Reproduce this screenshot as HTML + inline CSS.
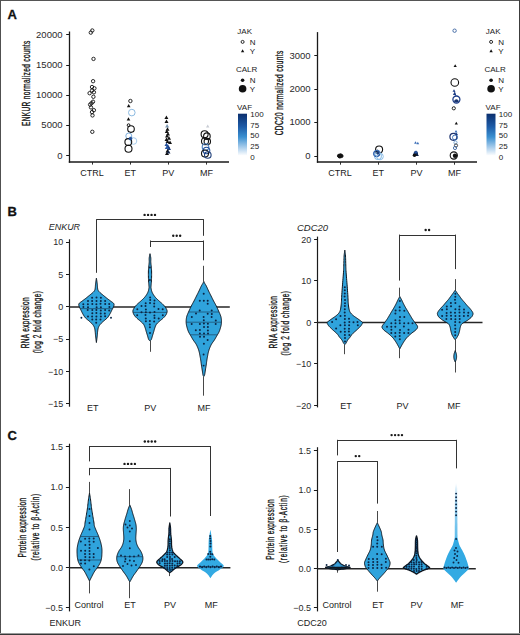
<!DOCTYPE html>
<html><head><meta charset="utf-8"><style>
html,body{margin:0;padding:0;background:#fff;}
svg{display:block;}
text{font-family:"Liberation Sans",sans-serif;}
</style></head><body>
<svg width="520" height="635" viewBox="0 0 520 635">
<defs><linearGradient id="vaf" x1="0" y1="0" x2="0" y2="1">
<stop offset="0" stop-color="#0b2f6e"/><stop offset="0.3" stop-color="#1d5aa6"/><stop offset="0.55" stop-color="#3a8fd0"/><stop offset="0.8" stop-color="#a9cdec"/><stop offset="1" stop-color="#ffffff"/></linearGradient></defs>
<rect width="520" height="635" fill="#fff"/>
<rect x="0" y="0" width="520" height="1" fill="#555"/>
<rect x="0" y="0" width="1" height="635" fill="#505050"/>
<rect x="519" y="0" width="1" height="635" fill="#3c3c3c"/>
<rect x="0" y="634" width="520" height="1" fill="#383838"/>
<rect x="0" y="633" width="520" height="1" fill="#9a9a9a"/>
<text x="7.6" y="18.7" font-size="13" text-anchor="start" font-weight="bold" font-style="normal" fill="#111" stroke="#111" stroke-width="0.3">A</text>
<text x="7.6" y="215.8" font-size="13" text-anchor="start" font-weight="bold" font-style="normal" fill="#111" stroke="#111" stroke-width="0.3">B</text>
<text x="7.4" y="439.6" font-size="13" text-anchor="start" font-weight="bold" font-style="normal" fill="#111" stroke="#111" stroke-width="0.3">C</text>
<line x1="69.5" y1="31.5" x2="69.5" y2="162.7" stroke="#1a1a1a" stroke-width="1.3"/>
<line x1="68.8" y1="162.0" x2="229.0" y2="162.0" stroke="#1a1a1a" stroke-width="1.5"/>
<line x1="66.2" y1="155.5" x2="69.4" y2="155.5" stroke="#1a1a1a" stroke-width="1.0"/>
<text x="62.5" y="158.6" font-size="9.5" text-anchor="end" font-weight="normal" font-style="normal" fill="#2a2a2a" >0</text>
<line x1="66.2" y1="125.5" x2="69.4" y2="125.5" stroke="#1a1a1a" stroke-width="1.0"/>
<text x="62.5" y="128.4" font-size="9.5" text-anchor="end" font-weight="normal" font-style="normal" fill="#2a2a2a" >5000</text>
<line x1="66.2" y1="95.5" x2="69.4" y2="95.5" stroke="#1a1a1a" stroke-width="1.0"/>
<text x="62.5" y="98.2" font-size="9.5" text-anchor="end" font-weight="normal" font-style="normal" fill="#2a2a2a" >10000</text>
<line x1="66.2" y1="65.5" x2="69.4" y2="65.5" stroke="#1a1a1a" stroke-width="1.0"/>
<text x="62.5" y="67.9" font-size="9.5" text-anchor="end" font-weight="normal" font-style="normal" fill="#2a2a2a" >15000</text>
<line x1="66.2" y1="34.5" x2="69.4" y2="34.5" stroke="#1a1a1a" stroke-width="1.0"/>
<text x="62.5" y="37.7" font-size="9.5" text-anchor="end" font-weight="normal" font-style="normal" fill="#2a2a2a" >20000</text>
<line x1="92.5" y1="162.0" x2="92.5" y2="164.6" stroke="#1a1a1a" stroke-width="0.9"/>
<text x="92.0" y="176.2" font-size="9" text-anchor="middle" font-weight="normal" font-style="normal" fill="#222" >CTRL</text>
<line x1="130.5" y1="162.0" x2="130.5" y2="164.6" stroke="#1a1a1a" stroke-width="0.9"/>
<text x="130.2" y="176.2" font-size="9" text-anchor="middle" font-weight="normal" font-style="normal" fill="#222" >ET</text>
<line x1="168.5" y1="162.0" x2="168.5" y2="164.6" stroke="#1a1a1a" stroke-width="0.9"/>
<text x="168.3" y="176.2" font-size="9" text-anchor="middle" font-weight="normal" font-style="normal" fill="#222" >PV</text>
<line x1="206.5" y1="162.0" x2="206.5" y2="164.6" stroke="#1a1a1a" stroke-width="0.9"/>
<text x="206.5" y="176.2" font-size="9" text-anchor="middle" font-weight="normal" font-style="normal" fill="#222" >MF</text>
<g transform="translate(30.20,83.30) rotate(-90) scale(0.64,1)"><text x="0" y="0" font-size="10.2" text-anchor="middle" fill="#151515" stroke="#151515" stroke-width="0.35" textLength="133.1" lengthAdjust="spacing">ENKUR normalized counts</text></g>
<text x="237.3" y="33.8" font-size="8" text-anchor="start" font-weight="normal" font-style="normal" fill="#222" >JAK</text>
<circle cx="242.6" cy="41.9" r="1.5" fill="none" stroke="#111" stroke-width="0.9"/>
<text x="249.8" y="44.6" font-size="8" text-anchor="start" font-weight="normal" font-style="normal" fill="#222" >N</text>
<path d="M242.6,49.2 L244.3,52.2 L240.9,52.2Z" fill="#111"/>
<text x="249.8" y="54.0" font-size="8" text-anchor="start" font-weight="normal" font-style="normal" fill="#222" >Y</text>
<text x="236.0" y="71.9" font-size="8" text-anchor="start" font-weight="normal" font-style="normal" fill="#222" >CALR</text>
<circle cx="242.6" cy="80.2" r="1.8" fill="#111" stroke="#111" stroke-width="0"/>
<text x="249.8" y="82.6" font-size="8" text-anchor="start" font-weight="normal" font-style="normal" fill="#222" >N</text>
<circle cx="242.6" cy="88.8" r="3.8" fill="#111" stroke="#111" stroke-width="0"/>
<text x="249.8" y="92.0" font-size="8" text-anchor="start" font-weight="normal" font-style="normal" fill="#222" >Y</text>
<text x="237.1" y="109.5" font-size="8" text-anchor="start" font-weight="normal" font-style="normal" fill="#222" >VAF</text>
<rect x="238" y="113.7" width="9" height="42" fill="url(#vaf)"/>
<text x="250.3" y="116.6" font-size="8" text-anchor="start" font-weight="normal" font-style="normal" fill="#222" >100</text>
<text x="250.3" y="127.5" font-size="8" text-anchor="start" font-weight="normal" font-style="normal" fill="#222" >75</text>
<text x="250.3" y="138.4" font-size="8" text-anchor="start" font-weight="normal" font-style="normal" fill="#222" >50</text>
<text x="250.3" y="149.3" font-size="8" text-anchor="start" font-weight="normal" font-style="normal" fill="#222" >25</text>
<text x="250.3" y="160.2" font-size="8" text-anchor="start" font-weight="normal" font-style="normal" fill="#222" >0</text>
<line x1="317.5" y1="32.1" x2="317.5" y2="162.8" stroke="#1a1a1a" stroke-width="1.3"/>
<line x1="316.9" y1="162.1" x2="477.0" y2="162.1" stroke="#1a1a1a" stroke-width="1.5"/>
<line x1="314.3" y1="156.5" x2="317.5" y2="156.5" stroke="#1a1a1a" stroke-width="1.0"/>
<text x="310.6" y="158.9" font-size="9.5" text-anchor="end" font-weight="normal" font-style="normal" fill="#2a2a2a" >0</text>
<line x1="314.3" y1="122.5" x2="317.5" y2="122.5" stroke="#1a1a1a" stroke-width="1.0"/>
<text x="310.6" y="125.4" font-size="9.5" text-anchor="end" font-weight="normal" font-style="normal" fill="#2a2a2a" >1000</text>
<line x1="314.3" y1="89.5" x2="317.5" y2="89.5" stroke="#1a1a1a" stroke-width="1.0"/>
<text x="310.6" y="92.0" font-size="9.5" text-anchor="end" font-weight="normal" font-style="normal" fill="#2a2a2a" >2000</text>
<line x1="314.3" y1="55.5" x2="317.5" y2="55.5" stroke="#1a1a1a" stroke-width="1.0"/>
<text x="310.6" y="58.5" font-size="9.5" text-anchor="end" font-weight="normal" font-style="normal" fill="#2a2a2a" >3000</text>
<line x1="340.5" y1="162.1" x2="340.5" y2="164.7" stroke="#1a1a1a" stroke-width="0.9"/>
<text x="340.1" y="176.3" font-size="9" text-anchor="middle" font-weight="normal" font-style="normal" fill="#222" >CTRL</text>
<line x1="378.5" y1="162.1" x2="378.5" y2="164.7" stroke="#1a1a1a" stroke-width="0.9"/>
<text x="378.2" y="176.3" font-size="9" text-anchor="middle" font-weight="normal" font-style="normal" fill="#222" >ET</text>
<line x1="416.5" y1="162.1" x2="416.5" y2="164.7" stroke="#1a1a1a" stroke-width="0.9"/>
<text x="416.4" y="176.3" font-size="9" text-anchor="middle" font-weight="normal" font-style="normal" fill="#222" >PV</text>
<line x1="454.5" y1="162.1" x2="454.5" y2="164.7" stroke="#1a1a1a" stroke-width="0.9"/>
<text x="454.5" y="176.3" font-size="9" text-anchor="middle" font-weight="normal" font-style="normal" fill="#222" >MF</text>
<g transform="translate(283.30,93.00) rotate(-90) scale(0.64,1)"><text x="0" y="0" font-size="10.2" text-anchor="middle" fill="#151515" stroke="#151515" stroke-width="0.35" textLength="132.2" lengthAdjust="spacing">CDC20 normalized counts</text></g>
<text x="485.8" y="33.8" font-size="8" text-anchor="start" font-weight="normal" font-style="normal" fill="#222" >JAK</text>
<circle cx="491.1" cy="41.9" r="1.5" fill="none" stroke="#111" stroke-width="0.9"/>
<text x="498.3" y="44.6" font-size="8" text-anchor="start" font-weight="normal" font-style="normal" fill="#222" >N</text>
<path d="M491.1,49.2 L492.8,52.2 L489.4,52.2Z" fill="#111"/>
<text x="498.3" y="54.0" font-size="8" text-anchor="start" font-weight="normal" font-style="normal" fill="#222" >Y</text>
<text x="484.5" y="71.9" font-size="8" text-anchor="start" font-weight="normal" font-style="normal" fill="#222" >CALR</text>
<circle cx="491.1" cy="80.2" r="1.8" fill="#111" stroke="#111" stroke-width="0"/>
<text x="498.3" y="82.6" font-size="8" text-anchor="start" font-weight="normal" font-style="normal" fill="#222" >N</text>
<circle cx="491.1" cy="88.8" r="3.8" fill="#111" stroke="#111" stroke-width="0"/>
<text x="498.3" y="92.0" font-size="8" text-anchor="start" font-weight="normal" font-style="normal" fill="#222" >Y</text>
<text x="485.6" y="109.5" font-size="8" text-anchor="start" font-weight="normal" font-style="normal" fill="#222" >VAF</text>
<rect x="486.5" y="113.7" width="9" height="42" fill="url(#vaf)"/>
<text x="498.8" y="116.6" font-size="8" text-anchor="start" font-weight="normal" font-style="normal" fill="#222" >100</text>
<text x="498.8" y="127.5" font-size="8" text-anchor="start" font-weight="normal" font-style="normal" fill="#222" >75</text>
<text x="498.8" y="138.4" font-size="8" text-anchor="start" font-weight="normal" font-style="normal" fill="#222" >50</text>
<text x="498.8" y="149.3" font-size="8" text-anchor="start" font-weight="normal" font-style="normal" fill="#222" >25</text>
<text x="498.8" y="160.2" font-size="8" text-anchor="start" font-weight="normal" font-style="normal" fill="#222" >0</text>
<circle cx="92.3" cy="30.5" r="1.7" fill="none" stroke="#111" stroke-width="0.9"/>
<circle cx="90.8" cy="32.6" r="1.7" fill="none" stroke="#111" stroke-width="0.9"/>
<circle cx="93.5" cy="58.9" r="1.7" fill="none" stroke="#111" stroke-width="0.9"/>
<circle cx="93.1" cy="81.2" r="1.7" fill="none" stroke="#111" stroke-width="0.9"/>
<circle cx="92.0" cy="87.0" r="1.7" fill="none" stroke="#111" stroke-width="0.9"/>
<circle cx="94.4" cy="88.3" r="1.7" fill="none" stroke="#111" stroke-width="0.9"/>
<circle cx="92.0" cy="90.6" r="1.7" fill="none" stroke="#111" stroke-width="0.9"/>
<circle cx="93.9" cy="92.3" r="1.7" fill="none" stroke="#111" stroke-width="0.9"/>
<circle cx="89.6" cy="93.2" r="1.7" fill="none" stroke="#111" stroke-width="0.9"/>
<circle cx="93.4" cy="96.8" r="1.7" fill="none" stroke="#111" stroke-width="0.9"/>
<circle cx="93.0" cy="101.7" r="1.7" fill="none" stroke="#111" stroke-width="0.9"/>
<circle cx="91.5" cy="103.2" r="1.7" fill="none" stroke="#111" stroke-width="0.9"/>
<circle cx="90.1" cy="104.6" r="1.7" fill="none" stroke="#111" stroke-width="0.9"/>
<circle cx="91.0" cy="107.4" r="1.7" fill="none" stroke="#111" stroke-width="0.9"/>
<circle cx="93.9" cy="110.2" r="1.7" fill="none" stroke="#111" stroke-width="0.9"/>
<circle cx="92.0" cy="112.1" r="1.7" fill="none" stroke="#111" stroke-width="0.9"/>
<circle cx="92.5" cy="115.4" r="1.7" fill="none" stroke="#111" stroke-width="0.9"/>
<circle cx="92.3" cy="131.8" r="1.7" fill="none" stroke="#111" stroke-width="0.9"/>
<circle cx="130.4" cy="101.0" r="1.7" fill="none" stroke="#111" stroke-width="0.9"/>
<path d="M128.7,104.1 L130.5,107.3 L126.9,107.3Z" fill="#111"/>
<circle cx="131.8" cy="112.6" r="3.3" fill="none" stroke="#7fb2de" stroke-width="0.9"/>
<path d="M128.5,117.3 L130.3,120.5 L126.7,120.5Z" fill="#111"/>
<circle cx="128.6" cy="125.2" r="1.4" fill="none" stroke="#111" stroke-width="1.0"/>
<circle cx="131.0" cy="129.1" r="3.3" fill="none" stroke="#111" stroke-width="1.1"/>
<circle cx="128.8" cy="136.0" r="3.0" fill="none" stroke="#7fb0de" stroke-width="1.0"/>
<circle cx="133.5" cy="141.0" r="3.3" fill="none" stroke="#a8cdec" stroke-width="1.0"/>
<circle cx="128.3" cy="142.0" r="3.4" fill="none" stroke="#111" stroke-width="1.1"/>
<circle cx="128.5" cy="148.7" r="3.5" fill="none" stroke="#111" stroke-width="1.1"/>
<circle cx="130.5" cy="138.5" r="1.5" fill="#1f4e9a" stroke="#1f4e9a" stroke-width="0.5"/>
<path d="M166.4,115.6 L168.4,119.1 L164.4,119.1Z" fill="#111"/>
<path d="M166.5,119.5 L168.5,123.0 L164.5,123.0Z" fill="#111"/>
<path d="M167.1,124.1 L169.1,127.6 L165.1,127.6Z" fill="#7a96b0"/>
<path d="M167.5,127.3 L169.5,130.8 L165.5,130.8Z" fill="#111"/>
<path d="M166.8,129.4 L168.8,132.9 L164.8,132.9Z" fill="#111"/>
<path d="M168.0,131.9 L170.0,135.4 L166.0,135.4Z" fill="#111"/>
<path d="M167.0,133.9 L169.0,137.4 L165.0,137.4Z" fill="#111"/>
<path d="M169.0,136.2 L171.0,139.7 L167.0,139.7Z" fill="#111"/>
<path d="M166.5,137.4 L168.5,140.9 L164.5,140.9Z" fill="#111"/>
<path d="M167.5,139.4 L169.5,142.9 L165.5,142.9Z" fill="#111"/>
<path d="M170.0,140.4 L172.0,143.9 L168.0,143.9Z" fill="#111"/>
<path d="M166.5,142.4 L168.5,145.9 L164.5,145.9Z" fill="#24509a"/>
<path d="M168.0,144.4 L170.0,147.9 L166.0,147.9Z" fill="#1c4690"/>
<path d="M169.0,146.4 L171.0,149.9 L167.0,149.9Z" fill="#1a3a7a"/>
<path d="M166.8,145.4 L168.8,148.9 L164.8,148.9Z" fill="#2a5aa8"/>
<path d="M167.5,148.9 L169.5,152.4 L165.5,152.4Z" fill="#111"/>
<path d="M167.0,151.4 L169.0,154.9 L165.0,154.9Z" fill="#111"/>
<path d="M168.5,149.9 L170.5,153.4 L166.5,153.4Z" fill="#14264a"/>
<path d="M207.7,124.4 L209.4,127.4 L206.0,127.4Z" fill="#c8ccd4"/>
<circle cx="204.6" cy="134.2" r="3.5" fill="none" stroke="#111" stroke-width="1.1"/>
<circle cx="206.9" cy="136.2" r="3.3" fill="none" stroke="#111" stroke-width="1.1"/>
<circle cx="205.0" cy="141.2" r="3.5" fill="none" stroke="#111" stroke-width="1.1"/>
<circle cx="207.3" cy="141.6" r="3.2" fill="none" stroke="#111" stroke-width="1.1"/>
<circle cx="205.5" cy="147.0" r="3.3" fill="none" stroke="#4a7fc0" stroke-width="1.1"/>
<circle cx="206.5" cy="150.5" r="3.3" fill="none" stroke="#1f4e9a" stroke-width="1.1"/>
<circle cx="205.0" cy="153.5" r="3.5" fill="none" stroke="#111" stroke-width="1.1"/>
<circle cx="207.8" cy="155.0" r="3.3" fill="none" stroke="#1f3f7a" stroke-width="1.1"/>
<circle cx="339.0" cy="155.8" r="1.6" fill="#111" stroke="#111" stroke-width="0.9"/>
<circle cx="340.5" cy="155.3" r="1.6" fill="#111" stroke="#111" stroke-width="0.9"/>
<circle cx="341.5" cy="156.0" r="1.6" fill="#111" stroke="#111" stroke-width="0.9"/>
<circle cx="339.8" cy="156.5" r="1.6" fill="#111" stroke="#111" stroke-width="0.9"/>
<circle cx="379.1" cy="149.5" r="3.5" fill="none" stroke="#111" stroke-width="1.1"/>
<circle cx="377.3" cy="151.8" r="1.6" fill="#111" stroke="#111" stroke-width="0.9"/>
<circle cx="377.0" cy="153.2" r="3.0" fill="none" stroke="#4a7fc0" stroke-width="1.1"/>
<circle cx="378.0" cy="156.0" r="3.4" fill="none" stroke="#8fc0e8" stroke-width="1.1"/>
<circle cx="376.5" cy="153.8" r="3.0" fill="none" stroke="#2a5aa8" stroke-width="1.0"/>
<circle cx="380.0" cy="156.5" r="3.3" fill="none" stroke="#8fc0e8" stroke-width="1.0"/>
<circle cx="378.0" cy="153.0" r="1.5" fill="#1f3f7a" stroke="#111" stroke-width="0"/>
<path d="M415.5,141.3 L416.9,143.8 L414.1,143.8Z" fill="#3d6fb8"/>
<path d="M417.8,141.7 L419.2,144.2 L416.4,144.2Z" fill="#3d6fb8"/>
<circle cx="415.8" cy="153.2" r="2.2" fill="#1f3f7a" stroke="#111" stroke-width="0"/>
<path d="M417.0,152.8 L418.9,156.1 L415.1,156.1Z" fill="#0d1e44"/>
<circle cx="414.5" cy="155.3" r="1.8" fill="#111" stroke="#111" stroke-width="0"/>
<path d="M416.0,150.3 L417.6,153.1 L414.4,153.1Z" fill="#24509a"/>
<circle cx="454.6" cy="30.7" r="1.7" fill="none" stroke="#3b64a0" stroke-width="0.9"/>
<path d="M455.2,64.3 L456.8,67.1 L453.6,67.1Z" fill="#111"/>
<circle cx="454.8" cy="82.5" r="3.8" fill="none" stroke="#111" stroke-width="1.1"/>
<path d="M454.0,89.2 L455.5,91.8 L452.5,91.8Z" fill="#1f3f8a"/>
<path d="M454.5,92.1 L456.1,94.9 L452.9,94.9Z" fill="#1a3a80"/>
<line x1="454.3" y1="91" x2="456" y2="96" stroke="#1f3f8a" stroke-width="0.9"/>
<circle cx="456.4" cy="99.5" r="3.5" fill="none" stroke="#1f3f8a" stroke-width="1.3"/>
<path d="M453.6,101.5 Q456.4,97 459.2,101.5 Q456.4,103 453.6,101.5Z" fill="#1a3570"/>
<circle cx="453.8" cy="108.3" r="1.6" fill="none" stroke="#111" stroke-width="0.9"/>
<path d="M456.3,121.7 L457.9,124.5 L454.7,124.5Z" fill="#111"/>
<path d="M456.0,129.9 L457.5,132.5 L454.5,132.5Z" fill="#3d6fb8"/>
<path d="M456.5,132.4 L458.0,135.0 L455.0,135.0Z" fill="#1f4e9a"/>
<circle cx="453.4" cy="136.8" r="3.5" fill="none" stroke="#1f3570" stroke-width="1.2"/>
<circle cx="455.0" cy="137.5" r="2.5" fill="none" stroke="#2f64b0" stroke-width="0.9"/>
<circle cx="455.5" cy="142.5" r="1.6" fill="none" stroke="#6f9fcf" stroke-width="0.9"/>
<circle cx="456.0" cy="145.5" r="1.6" fill="none" stroke="#333" stroke-width="0.9"/>
<circle cx="455.0" cy="148.0" r="1.6" fill="none" stroke="#3b64a0" stroke-width="0.9"/>
<circle cx="453.8" cy="155.5" r="3.6" fill="none" stroke="#111" stroke-width="1.1"/>
<circle cx="455.0" cy="155.8" r="2.2" fill="#111" stroke="#111" stroke-width="0"/>
<line x1="69.5" y1="239.3" x2="69.5" y2="406.7" stroke="#1a1a1a" stroke-width="1.2"/>
<line x1="66.0" y1="242.5" x2="69.3" y2="242.5" stroke="#1a1a1a" stroke-width="1.0"/>
<text x="63.2" y="245.3" font-size="9" text-anchor="end" font-weight="normal" font-style="normal" fill="#2a2a2a" >10</text>
<line x1="66.0" y1="274.5" x2="69.3" y2="274.5" stroke="#1a1a1a" stroke-width="1.0"/>
<text x="63.2" y="277.6" font-size="9" text-anchor="end" font-weight="normal" font-style="normal" fill="#2a2a2a" >5</text>
<line x1="66.0" y1="306.5" x2="69.3" y2="306.5" stroke="#1a1a1a" stroke-width="1.0"/>
<text x="63.2" y="310.0" font-size="9" text-anchor="end" font-weight="normal" font-style="normal" fill="#2a2a2a" >0</text>
<line x1="66.0" y1="339.5" x2="69.3" y2="339.5" stroke="#1a1a1a" stroke-width="1.0"/>
<text x="63.2" y="342.4" font-size="9" text-anchor="end" font-weight="normal" font-style="normal" fill="#2a2a2a" >−5</text>
<line x1="66.0" y1="371.5" x2="69.3" y2="371.5" stroke="#1a1a1a" stroke-width="1.0"/>
<text x="63.2" y="374.7" font-size="9" text-anchor="end" font-weight="normal" font-style="normal" fill="#2a2a2a" >−10</text>
<line x1="66.0" y1="403.5" x2="69.3" y2="403.5" stroke="#1a1a1a" stroke-width="1.0"/>
<text x="63.2" y="407.1" font-size="9" text-anchor="end" font-weight="normal" font-style="normal" fill="#2a2a2a" >−15</text>
<text x="48.7" y="230.3" font-size="9.3" text-anchor="start" font-weight="normal" font-style="italic" fill="#1e1e1e" textLength="31.4" lengthAdjust="spacingAndGlyphs">ENKUR</text>
<g transform="translate(29.10,322.80) rotate(-90) scale(0.64,1)"><text x="0" y="0" font-size="10.2" text-anchor="middle" fill="#151515" stroke="#151515" stroke-width="0.35" textLength="79.7" lengthAdjust="spacing">RNA expression</text></g>
<g transform="translate(41.30,322.20) rotate(-90) scale(0.64,1)"><text x="0" y="0" font-size="10.2" text-anchor="middle" fill="#151515" stroke="#151515" stroke-width="0.35" textLength="97.3" lengthAdjust="spacing">(log 2 fold change)</text></g>
<line x1="96.2" y1="219.5" x2="203.8" y2="219.5" stroke="#333" stroke-width="1.0"/>
<line x1="96.5" y1="219.4" x2="96.5" y2="272.8" stroke="#333" stroke-width="1.0"/>
<line x1="203.5" y1="219.4" x2="203.5" y2="235.8" stroke="#333" stroke-width="1.0"/>
<circle cx="144.62" cy="214.90" r="1.2" fill="#1a1a1a"/>
<circle cx="148.07" cy="214.90" r="1.2" fill="#1a1a1a"/>
<circle cx="151.53" cy="214.90" r="1.2" fill="#1a1a1a"/>
<circle cx="154.97" cy="214.90" r="1.2" fill="#1a1a1a"/>
<line x1="150.1" y1="241.5" x2="203.8" y2="241.5" stroke="#333" stroke-width="1.0"/>
<line x1="150.5" y1="240.5" x2="150.5" y2="247.0" stroke="#333" stroke-width="1.0"/>
<line x1="203.5" y1="240.5" x2="203.5" y2="260.3" stroke="#333" stroke-width="1.0"/>
<circle cx="173.25" cy="235.80" r="1.2" fill="#1a1a1a"/>
<circle cx="176.70" cy="235.80" r="1.2" fill="#1a1a1a"/>
<circle cx="180.15" cy="235.80" r="1.2" fill="#1a1a1a"/>
<line x1="69.0" y1="306.9" x2="229.8" y2="306.9" stroke="#262626" stroke-width="1.5"/>
<path d="M96.40,278.20 L96.49,278.77 L96.62,279.57 L96.77,280.51 L96.93,281.52 L97.07,282.54 L97.20,283.50 L97.30,284.45 L97.37,285.45 L97.44,286.46 L97.51,287.42 L97.60,288.28 L97.70,289.00 L97.82,289.54 L97.96,289.94 L98.10,290.25 L98.26,290.50 L98.42,290.74 L98.60,291.00 L98.77,291.27 L98.94,291.50 L99.12,291.72 L99.33,291.94 L99.58,292.20 L99.90,292.50 L100.29,292.85 L100.74,293.23 L101.24,293.64 L101.77,294.08 L102.33,294.53 L102.90,295.00 L103.50,295.50 L104.13,296.02 L104.79,296.57 L105.46,297.12 L106.13,297.67 L106.80,298.20 L107.47,298.72 L108.17,299.24 L108.86,299.76 L109.54,300.26 L110.20,300.74 L110.80,301.20 L111.38,301.62 L111.95,302.01 L112.49,302.38 L112.98,302.74 L113.39,303.11 L113.70,303.50 L113.90,303.89 L114.02,304.26 L114.06,304.63 L114.03,305.03 L113.94,305.48 L113.80,306.00 L113.59,306.61 L113.29,307.29 L112.92,308.02 L112.54,308.77 L112.15,309.50 L111.80,310.20 L111.48,310.86 L111.18,311.50 L110.88,312.12 L110.57,312.75 L110.25,313.37 L109.90,314.00 L109.54,314.63 L109.19,315.26 L108.81,315.89 L108.40,316.53 L107.94,317.16 L107.40,317.80 L106.75,318.45 L105.99,319.12 L105.18,319.79 L104.36,320.46 L103.59,321.10 L102.90,321.70 L102.30,322.26 L101.74,322.80 L101.22,323.31 L100.74,323.80 L100.30,324.30 L99.90,324.80 L99.54,325.30 L99.23,325.77 L98.96,326.25 L98.71,326.74 L98.50,327.25 L98.30,327.80 L98.13,328.39 L97.99,329.01 L97.88,329.65 L97.78,330.31 L97.69,331.00 L97.60,331.70 L97.52,332.41 L97.46,333.12 L97.41,333.86 L97.35,334.62 L97.29,335.43 L97.20,336.30 L97.08,337.31 L96.93,338.48 L96.78,339.69 L96.62,340.83 L96.49,341.81 L96.40,342.50 L96.40,342.50 L96.31,341.81 L96.18,340.83 L96.03,339.69 L95.87,338.48 L95.72,337.31 L95.60,336.30 L95.51,335.43 L95.45,334.62 L95.39,333.86 L95.34,333.12 L95.28,332.41 L95.20,331.70 L95.11,331.00 L95.02,330.31 L94.93,329.65 L94.81,329.01 L94.67,328.39 L94.50,327.80 L94.30,327.25 L94.09,326.74 L93.84,326.25 L93.57,325.77 L93.26,325.30 L92.90,324.80 L92.50,324.30 L92.06,323.80 L91.58,323.31 L91.06,322.80 L90.50,322.26 L89.90,321.70 L89.21,321.10 L88.44,320.46 L87.62,319.79 L86.81,319.12 L86.05,318.45 L85.40,317.80 L84.86,317.16 L84.40,316.53 L83.99,315.89 L83.61,315.26 L83.26,314.63 L82.90,314.00 L82.55,313.37 L82.23,312.75 L81.92,312.12 L81.62,311.50 L81.32,310.86 L81.00,310.20 L80.65,309.50 L80.26,308.77 L79.88,308.02 L79.51,307.29 L79.21,306.61 L79.00,306.00 L78.86,305.48 L78.77,305.03 L78.74,304.63 L78.78,304.26 L78.90,303.89 L79.10,303.50 L79.41,303.11 L79.82,302.74 L80.31,302.38 L80.85,302.01 L81.42,301.62 L82.00,301.20 L82.60,300.74 L83.26,300.26 L83.94,299.76 L84.63,299.24 L85.33,298.72 L86.00,298.20 L86.67,297.67 L87.34,297.12 L88.01,296.57 L88.67,296.02 L89.30,295.50 L89.90,295.00 L90.47,294.53 L91.03,294.08 L91.56,293.64 L92.06,293.23 L92.51,292.85 L92.90,292.50 L93.22,292.20 L93.47,291.94 L93.68,291.72 L93.86,291.50 L94.03,291.27 L94.20,291.00 L94.38,290.74 L94.54,290.50 L94.70,290.25 L94.84,289.94 L94.98,289.54 L95.10,289.00 L95.20,288.28 L95.29,287.42 L95.36,286.46 L95.43,285.45 L95.50,284.45 L95.60,283.50 L95.73,282.54 L95.87,281.52 L96.03,280.51 L96.18,279.57 L96.31,278.77 L96.40,278.20Z" fill="#2fa3dc" stroke="#0e1620" stroke-width="1.0" stroke-linejoin="round"/>
<line x1="80.2" y1="308.6" x2="112.6" y2="308.6" stroke="#1a3550" stroke-width="0.6"/>
<circle cx="92.1" cy="297.7" r="1.0" fill="#0b2545"/>
<circle cx="96.5" cy="297.6" r="1.0" fill="#0b2545"/>
<circle cx="100.9" cy="297.7" r="1.0" fill="#0b2545"/>
<circle cx="88.0" cy="300.9" r="1.0" fill="#0b2545"/>
<circle cx="92.1" cy="301.0" r="1.0" fill="#0b2545"/>
<circle cx="96.5" cy="301.1" r="1.0" fill="#0b2545"/>
<circle cx="100.8" cy="301.0" r="1.0" fill="#0b2545"/>
<circle cx="105.1" cy="300.9" r="1.0" fill="#0b2545"/>
<circle cx="83.3" cy="304.2" r="1.0" fill="#0b2545"/>
<circle cx="87.9" cy="304.2" r="1.0" fill="#0b2545"/>
<circle cx="92.3" cy="303.9" r="1.0" fill="#0b2545"/>
<circle cx="96.4" cy="304.2" r="1.0" fill="#0b2545"/>
<circle cx="100.5" cy="303.8" r="1.0" fill="#0b2545"/>
<circle cx="105.2" cy="304.0" r="1.0" fill="#0b2545"/>
<circle cx="109.2" cy="304.0" r="1.0" fill="#0b2545"/>
<circle cx="83.4" cy="307.1" r="1.0" fill="#0b2545"/>
<circle cx="88.0" cy="307.2" r="1.0" fill="#0b2545"/>
<circle cx="96.6" cy="307.2" r="1.0" fill="#0b2545"/>
<circle cx="100.9" cy="307.3" r="1.0" fill="#0b2545"/>
<circle cx="109.4" cy="307.0" r="1.0" fill="#0b2545"/>
<circle cx="87.7" cy="310.0" r="1.0" fill="#0b2545"/>
<circle cx="92.3" cy="310.0" r="1.0" fill="#0b2545"/>
<circle cx="96.4" cy="310.0" r="1.0" fill="#0b2545"/>
<circle cx="100.8" cy="310.4" r="1.0" fill="#0b2545"/>
<circle cx="105.1" cy="310.0" r="1.0" fill="#0b2545"/>
<circle cx="109.2" cy="310.4" r="1.0" fill="#0b2545"/>
<circle cx="92.3" cy="313.2" r="1.0" fill="#0b2545"/>
<circle cx="96.4" cy="313.1" r="1.0" fill="#0b2545"/>
<circle cx="100.7" cy="313.4" r="1.0" fill="#0b2545"/>
<circle cx="104.8" cy="313.5" r="1.0" fill="#0b2545"/>
<circle cx="88.0" cy="316.6" r="1.0" fill="#0b2545"/>
<circle cx="92.1" cy="316.4" r="1.0" fill="#0b2545"/>
<circle cx="96.4" cy="316.4" r="1.0" fill="#0b2545"/>
<circle cx="100.9" cy="316.4" r="1.0" fill="#0b2545"/>
<circle cx="105.1" cy="316.3" r="1.0" fill="#0b2545"/>
<circle cx="92.3" cy="319.5" r="1.0" fill="#0b2545"/>
<circle cx="96.2" cy="319.5" r="1.0" fill="#0b2545"/>
<circle cx="100.5" cy="319.6" r="1.0" fill="#0b2545"/>
<circle cx="96.2" cy="322.7" r="1.0" fill="#0b2545"/>
<circle cx="81.4" cy="317.7" r="0.95" fill="#0b2545" stroke="#111" stroke-width="0"/>
<circle cx="111.0" cy="317.7" r="0.95" fill="#0b2545" stroke="#111" stroke-width="0"/>
<line x1="150.5" y1="341.0" x2="150.5" y2="351.8" stroke="#333" stroke-width="0.9"/>
<path d="M150.00,253.70 L150.10,254.17 L150.24,254.81 L150.40,255.58 L150.56,256.41 L150.70,257.23 L150.80,258.00 L150.84,258.71 L150.84,259.42 L150.82,260.12 L150.79,260.84 L150.78,261.56 L150.80,262.30 L150.86,263.06 L150.94,263.83 L151.03,264.61 L151.13,265.40 L151.22,266.19 L151.30,267.00 L151.37,267.78 L151.43,268.54 L151.49,269.31 L151.54,270.12 L151.58,271.01 L151.60,272.00 L151.61,273.14 L151.61,274.40 L151.60,275.73 L151.58,277.09 L151.54,278.43 L151.50,279.70 L151.43,280.95 L151.34,282.24 L151.23,283.51 L151.13,284.69 L151.05,285.74 L151.00,286.60 L150.98,287.20 L150.98,287.59 L151.00,287.84 L151.03,288.03 L151.08,288.26 L151.15,288.60 L151.23,289.05 L151.32,289.55 L151.43,290.08 L151.56,290.63 L151.72,291.17 L151.90,291.70 L152.11,292.22 L152.34,292.74 L152.60,293.26 L152.88,293.77 L153.18,294.29 L153.50,294.80 L153.83,295.30 L154.18,295.80 L154.55,296.30 L154.94,296.80 L155.36,297.30 L155.80,297.80 L156.28,298.31 L156.79,298.83 L157.32,299.34 L157.88,299.86 L158.44,300.38 L159.00,300.90 L159.58,301.42 L160.17,301.94 L160.78,302.46 L161.38,302.97 L161.96,303.49 L162.50,304.00 L163.01,304.50 L163.49,304.97 L163.95,305.45 L164.39,305.94 L164.81,306.45 L165.20,307.00 L165.60,307.60 L166.00,308.23 L166.39,308.89 L166.72,309.57 L166.97,310.24 L167.10,310.90 L167.11,311.55 L167.03,312.21 L166.86,312.87 L166.62,313.53 L166.33,314.17 L166.00,314.80 L165.61,315.42 L165.15,316.03 L164.63,316.63 L164.09,317.21 L163.53,317.77 L163.00,318.30 L162.48,318.79 L161.95,319.24 L161.42,319.67 L160.88,320.09 L160.34,320.53 L159.80,321.00 L159.24,321.50 L158.65,322.01 L158.06,322.53 L157.49,323.07 L156.96,323.63 L156.50,324.20 L156.12,324.80 L155.79,325.42 L155.51,326.06 L155.26,326.71 L155.03,327.36 L154.80,328.00 L154.58,328.63 L154.39,329.26 L154.22,329.89 L154.05,330.53 L153.88,331.16 L153.70,331.80 L153.51,332.45 L153.31,333.10 L153.11,333.75 L152.90,334.40 L152.70,335.05 L152.50,335.70 L152.30,336.37 L152.10,337.06 L151.91,337.75 L151.71,338.41 L151.51,339.00 L151.30,339.50 L151.07,339.90 L150.83,340.23 L150.57,340.49 L150.34,340.70 L150.14,340.86 L150.00,341.00 L150.00,341.00 L149.86,340.86 L149.66,340.70 L149.43,340.49 L149.17,340.23 L148.93,339.90 L148.70,339.50 L148.49,339.00 L148.29,338.41 L148.09,337.75 L147.90,337.06 L147.70,336.37 L147.50,335.70 L147.30,335.05 L147.10,334.40 L146.89,333.75 L146.69,333.10 L146.49,332.45 L146.30,331.80 L146.12,331.16 L145.95,330.53 L145.78,329.89 L145.61,329.26 L145.42,328.63 L145.20,328.00 L144.97,327.36 L144.74,326.71 L144.49,326.06 L144.21,325.42 L143.88,324.80 L143.50,324.20 L143.04,323.63 L142.51,323.07 L141.94,322.53 L141.35,322.01 L140.76,321.50 L140.20,321.00 L139.66,320.53 L139.12,320.09 L138.58,319.67 L138.05,319.24 L137.52,318.79 L137.00,318.30 L136.47,317.77 L135.91,317.21 L135.37,316.63 L134.85,316.03 L134.39,315.42 L134.00,314.80 L133.67,314.17 L133.38,313.53 L133.14,312.87 L132.97,312.21 L132.89,311.55 L132.90,310.90 L133.03,310.24 L133.28,309.57 L133.61,308.89 L134.00,308.23 L134.40,307.60 L134.80,307.00 L135.19,306.45 L135.61,305.94 L136.05,305.45 L136.51,304.97 L136.99,304.50 L137.50,304.00 L138.04,303.49 L138.62,302.97 L139.22,302.46 L139.83,301.94 L140.42,301.42 L141.00,300.90 L141.56,300.38 L142.12,299.86 L142.68,299.34 L143.21,298.83 L143.72,298.31 L144.20,297.80 L144.64,297.30 L145.06,296.80 L145.45,296.30 L145.82,295.80 L146.17,295.30 L146.50,294.80 L146.82,294.29 L147.12,293.77 L147.40,293.26 L147.66,292.74 L147.89,292.22 L148.10,291.70 L148.28,291.17 L148.44,290.63 L148.57,290.08 L148.68,289.55 L148.77,289.05 L148.85,288.60 L148.92,288.26 L148.97,288.03 L149.00,287.84 L149.02,287.59 L149.02,287.20 L149.00,286.60 L148.95,285.74 L148.87,284.69 L148.77,283.51 L148.66,282.24 L148.57,280.95 L148.50,279.70 L148.46,278.43 L148.42,277.09 L148.40,275.73 L148.39,274.40 L148.39,273.14 L148.40,272.00 L148.42,271.01 L148.46,270.12 L148.51,269.31 L148.57,268.54 L148.63,267.78 L148.70,267.00 L148.78,266.19 L148.87,265.40 L148.97,264.61 L149.06,263.83 L149.14,263.06 L149.20,262.30 L149.22,261.56 L149.21,260.84 L149.18,260.12 L149.16,259.42 L149.16,258.71 L149.20,258.00 L149.30,257.23 L149.44,256.41 L149.60,255.58 L149.76,254.81 L149.90,254.17 L150.00,253.70Z" fill="#2fa3dc" stroke="#0e1620" stroke-width="1.0" stroke-linejoin="round"/>
<line x1="133.0" y1="312.4" x2="167.0" y2="312.4" stroke="#1a3550" stroke-width="0.6"/>
<circle cx="150.1" cy="297.4" r="1.0" fill="#0b2545"/>
<circle cx="150.2" cy="300.1" r="1.0" fill="#0b2545"/>
<circle cx="154.5" cy="300.4" r="1.0" fill="#0b2545"/>
<circle cx="145.7" cy="303.2" r="1.0" fill="#0b2545"/>
<circle cx="150.0" cy="303.1" r="1.0" fill="#0b2545"/>
<circle cx="154.2" cy="303.5" r="1.0" fill="#0b2545"/>
<circle cx="141.5" cy="306.1" r="1.0" fill="#0b2545"/>
<circle cx="145.5" cy="306.1" r="1.0" fill="#0b2545"/>
<circle cx="154.2" cy="306.5" r="1.0" fill="#0b2545"/>
<circle cx="137.3" cy="309.3" r="1.0" fill="#0b2545"/>
<circle cx="145.9" cy="309.4" r="1.0" fill="#0b2545"/>
<circle cx="158.5" cy="309.1" r="1.0" fill="#0b2545"/>
<circle cx="162.7" cy="309.2" r="1.0" fill="#0b2545"/>
<circle cx="141.5" cy="312.2" r="1.0" fill="#0b2545"/>
<circle cx="145.9" cy="312.3" r="1.0" fill="#0b2545"/>
<circle cx="150.0" cy="312.4" r="1.0" fill="#0b2545"/>
<circle cx="154.5" cy="312.1" r="1.0" fill="#0b2545"/>
<circle cx="137.2" cy="315.2" r="1.0" fill="#0b2545"/>
<circle cx="145.5" cy="315.1" r="1.0" fill="#0b2545"/>
<circle cx="154.4" cy="315.5" r="1.0" fill="#0b2545"/>
<circle cx="162.8" cy="315.3" r="1.0" fill="#0b2545"/>
<circle cx="145.8" cy="318.4" r="1.0" fill="#0b2545"/>
<circle cx="154.5" cy="318.1" r="1.0" fill="#0b2545"/>
<circle cx="158.7" cy="318.5" r="1.0" fill="#0b2545"/>
<circle cx="145.9" cy="321.3" r="1.0" fill="#0b2545"/>
<circle cx="149.9" cy="321.1" r="1.0" fill="#0b2545"/>
<circle cx="154.1" cy="321.4" r="1.0" fill="#0b2545"/>
<circle cx="149.8" cy="324.5" r="1.0" fill="#0b2545"/>
<circle cx="149.9" cy="327.3" r="1.0" fill="#0b2545"/>
<circle cx="150.0" cy="333.1" r="1.0" fill="#0b2545"/>
<circle cx="149.9" cy="267.5" r="0.95" fill="#0b2545" stroke="#111" stroke-width="0"/>
<circle cx="149.9" cy="280.0" r="0.95" fill="#0b2545" stroke="#111" stroke-width="0"/>
<line x1="203.5" y1="265.8" x2="203.5" y2="281.4" stroke="#333" stroke-width="0.9"/>
<line x1="203.5" y1="376.4" x2="203.5" y2="395.7" stroke="#333" stroke-width="0.9"/>
<path d="M203.80,281.40 L203.90,281.62 L204.04,281.93 L204.21,282.29 L204.39,282.69 L204.59,283.10 L204.80,283.50 L205.01,283.86 L205.23,284.21 L205.47,284.57 L205.72,284.97 L206.00,285.43 L206.30,286.00 L206.63,286.69 L207.00,287.48 L207.39,288.34 L207.79,289.24 L208.20,290.14 L208.60,291.00 L209.01,291.83 L209.42,292.67 L209.84,293.50 L210.26,294.33 L210.68,295.17 L211.10,296.00 L211.51,296.83 L211.93,297.67 L212.34,298.50 L212.75,299.33 L213.17,300.17 L213.60,301.00 L214.04,301.83 L214.50,302.67 L214.96,303.50 L215.42,304.33 L215.87,305.17 L216.30,306.00 L216.71,306.83 L217.10,307.67 L217.49,308.50 L217.86,309.33 L218.23,310.17 L218.60,311.00 L218.98,311.84 L219.37,312.70 L219.75,313.56 L220.11,314.41 L220.43,315.22 L220.70,316.00 L220.91,316.72 L221.07,317.41 L221.19,318.06 L221.28,318.70 L221.35,319.34 L221.40,320.00 L221.44,320.67 L221.46,321.33 L221.45,322.00 L221.42,322.67 L221.37,323.33 L221.30,324.00 L221.20,324.67 L221.08,325.33 L220.93,326.00 L220.77,326.67 L220.59,327.33 L220.40,328.00 L220.21,328.67 L220.00,329.33 L219.79,330.00 L219.55,330.67 L219.29,331.33 L219.00,332.00 L218.67,332.67 L218.30,333.33 L217.91,334.00 L217.50,334.67 L217.09,335.33 L216.70,336.00 L216.32,336.67 L215.95,337.33 L215.58,338.00 L215.20,338.67 L214.81,339.33 L214.40,340.00 L213.95,340.67 L213.47,341.33 L212.98,342.00 L212.49,342.67 L212.02,343.33 L211.60,344.00 L211.22,344.67 L210.88,345.33 L210.56,346.00 L210.26,346.67 L209.97,347.33 L209.70,348.00 L209.44,348.67 L209.20,349.33 L208.98,350.00 L208.77,350.67 L208.58,351.33 L208.40,352.00 L208.24,352.67 L208.09,353.33 L207.96,354.00 L207.84,354.67 L207.72,355.33 L207.60,356.00 L207.48,356.66 L207.36,357.30 L207.24,357.94 L207.13,358.59 L207.02,359.28 L206.90,360.00 L206.78,360.78 L206.67,361.59 L206.56,362.44 L206.44,363.30 L206.32,364.16 L206.20,365.00 L206.07,365.83 L205.94,366.67 L205.81,367.50 L205.67,368.33 L205.53,369.17 L205.40,370.00 L205.27,370.88 L205.13,371.80 L205.00,372.72 L204.87,373.60 L204.73,374.38 L204.60,375.00 L204.46,375.46 L204.30,375.79 L204.15,376.01 L204.01,376.17 L203.89,376.29 L203.80,376.40 L203.80,376.40 L203.71,376.29 L203.59,376.17 L203.45,376.01 L203.30,375.79 L203.14,375.46 L203.00,375.00 L202.87,374.38 L202.73,373.60 L202.60,372.72 L202.47,371.80 L202.33,370.88 L202.20,370.00 L202.07,369.17 L201.93,368.33 L201.79,367.50 L201.66,366.67 L201.53,365.83 L201.40,365.00 L201.28,364.16 L201.16,363.30 L201.04,362.44 L200.93,361.59 L200.82,360.78 L200.70,360.00 L200.58,359.28 L200.47,358.59 L200.36,357.94 L200.24,357.30 L200.12,356.66 L200.00,356.00 L199.88,355.33 L199.76,354.67 L199.64,354.00 L199.51,353.33 L199.36,352.67 L199.20,352.00 L199.02,351.33 L198.83,350.67 L198.62,350.00 L198.40,349.33 L198.16,348.67 L197.90,348.00 L197.63,347.33 L197.34,346.67 L197.04,346.00 L196.72,345.33 L196.38,344.67 L196.00,344.00 L195.58,343.33 L195.11,342.67 L194.62,342.00 L194.13,341.33 L193.65,340.67 L193.20,340.00 L192.79,339.33 L192.40,338.67 L192.02,338.00 L191.65,337.33 L191.28,336.67 L190.90,336.00 L190.51,335.33 L190.10,334.67 L189.69,334.00 L189.30,333.33 L188.93,332.67 L188.60,332.00 L188.31,331.33 L188.05,330.67 L187.81,330.00 L187.60,329.33 L187.39,328.67 L187.20,328.00 L187.01,327.33 L186.83,326.67 L186.67,326.00 L186.52,325.33 L186.40,324.67 L186.30,324.00 L186.23,323.33 L186.18,322.67 L186.15,322.00 L186.14,321.33 L186.16,320.67 L186.20,320.00 L186.25,319.34 L186.32,318.70 L186.41,318.06 L186.53,317.41 L186.69,316.72 L186.90,316.00 L187.17,315.22 L187.49,314.41 L187.85,313.56 L188.23,312.70 L188.62,311.84 L189.00,311.00 L189.37,310.17 L189.74,309.33 L190.11,308.50 L190.50,307.67 L190.89,306.83 L191.30,306.00 L191.73,305.17 L192.18,304.33 L192.64,303.50 L193.10,302.67 L193.56,301.83 L194.00,301.00 L194.43,300.17 L194.85,299.33 L195.26,298.50 L195.67,297.67 L196.09,296.83 L196.50,296.00 L196.92,295.17 L197.34,294.33 L197.76,293.50 L198.18,292.67 L198.59,291.83 L199.00,291.00 L199.40,290.14 L199.81,289.24 L200.21,288.34 L200.60,287.48 L200.97,286.69 L201.30,286.00 L201.60,285.43 L201.88,284.97 L202.13,284.57 L202.37,284.21 L202.59,283.86 L202.80,283.50 L203.01,283.10 L203.21,282.69 L203.39,282.29 L203.56,281.93 L203.70,281.62 L203.80,281.40Z" fill="#2fa3dc" stroke="#0e1620" stroke-width="1.0" stroke-linejoin="round"/>
<line x1="188.6" y1="312.0" x2="219.0" y2="312.0" stroke="#1a3550" stroke-width="0.6"/>
<line x1="186.2" y1="322.2" x2="221.4" y2="322.2" stroke="#1a3550" stroke-width="0.6"/>
<line x1="190.2" y1="334.8" x2="217.4" y2="334.8" stroke="#1a3550" stroke-width="0.6"/>
<circle cx="203.7" cy="293.8" r="1.0" fill="#0b2545"/>
<circle cx="199.8" cy="300.8" r="1.0" fill="#0b2545"/>
<circle cx="203.8" cy="300.7" r="1.0" fill="#0b2545"/>
<circle cx="207.7" cy="300.7" r="1.0" fill="#0b2545"/>
<circle cx="207.7" cy="303.7" r="1.0" fill="#0b2545"/>
<circle cx="199.7" cy="310.6" r="1.0" fill="#0b2545"/>
<circle cx="211.7" cy="310.4" r="1.0" fill="#0b2545"/>
<circle cx="196.0" cy="313.6" r="1.0" fill="#0b2545"/>
<circle cx="207.7" cy="313.8" r="1.0" fill="#0b2545"/>
<circle cx="211.8" cy="314.0" r="1.0" fill="#0b2545"/>
<circle cx="191.8" cy="316.9" r="1.0" fill="#0b2545"/>
<circle cx="203.6" cy="316.9" r="1.0" fill="#0b2545"/>
<circle cx="211.6" cy="317.1" r="1.0" fill="#0b2545"/>
<circle cx="203.8" cy="320.2" r="1.0" fill="#0b2545"/>
<circle cx="215.8" cy="320.5" r="1.0" fill="#0b2545"/>
<circle cx="191.7" cy="323.9" r="1.0" fill="#0b2545"/>
<circle cx="199.9" cy="323.9" r="1.0" fill="#0b2545"/>
<circle cx="203.9" cy="323.5" r="1.0" fill="#0b2545"/>
<circle cx="207.9" cy="323.7" r="1.0" fill="#0b2545"/>
<circle cx="215.7" cy="323.9" r="1.0" fill="#0b2545"/>
<circle cx="204.0" cy="327.0" r="1.0" fill="#0b2545"/>
<circle cx="207.9" cy="326.9" r="1.0" fill="#0b2545"/>
<circle cx="195.8" cy="330.2" r="1.0" fill="#0b2545"/>
<circle cx="199.9" cy="330.1" r="1.0" fill="#0b2545"/>
<circle cx="207.9" cy="330.5" r="1.0" fill="#0b2545"/>
<circle cx="199.9" cy="333.6" r="1.0" fill="#0b2545"/>
<circle cx="204.0" cy="333.6" r="1.0" fill="#0b2545"/>
<circle cx="208.0" cy="333.5" r="1.0" fill="#0b2545"/>
<circle cx="200.0" cy="336.8" r="1.0" fill="#0b2545"/>
<circle cx="204.0" cy="336.7" r="1.0" fill="#0b2545"/>
<circle cx="207.6" cy="340.1" r="1.0" fill="#0b2545"/>
<circle cx="203.9" cy="343.7" r="1.0" fill="#0b2545"/>
<circle cx="203.6" cy="354.5" r="0.95" fill="#0b2545" stroke="#111" stroke-width="0"/>
<circle cx="203.6" cy="365.6" r="0.95" fill="#0b2545" stroke="#111" stroke-width="0"/>
<text x="92.8" y="410.8" font-size="9" text-anchor="middle" font-weight="normal" font-style="normal" fill="#222" >ET</text>
<text x="150.3" y="410.8" font-size="9" text-anchor="middle" font-weight="normal" font-style="normal" fill="#222" >PV</text>
<text x="203.9" y="410.8" font-size="9" text-anchor="middle" font-weight="normal" font-style="normal" fill="#222" >MF</text>
<line x1="317.5" y1="236.6" x2="317.5" y2="407.4" stroke="#1a1a1a" stroke-width="1.2"/>
<line x1="314.1" y1="239.5" x2="317.4" y2="239.5" stroke="#1a1a1a" stroke-width="1.0"/>
<text x="311.3" y="242.6" font-size="9" text-anchor="end" font-weight="normal" font-style="normal" fill="#2a2a2a" >20</text>
<line x1="314.1" y1="280.5" x2="317.4" y2="280.5" stroke="#1a1a1a" stroke-width="1.0"/>
<text x="311.3" y="284.1" font-size="9" text-anchor="end" font-weight="normal" font-style="normal" fill="#2a2a2a" >10</text>
<line x1="314.1" y1="322.5" x2="317.4" y2="322.5" stroke="#1a1a1a" stroke-width="1.0"/>
<text x="311.3" y="325.6" font-size="9" text-anchor="end" font-weight="normal" font-style="normal" fill="#2a2a2a" >0</text>
<line x1="314.1" y1="363.5" x2="317.4" y2="363.5" stroke="#1a1a1a" stroke-width="1.0"/>
<text x="311.3" y="367.1" font-size="9" text-anchor="end" font-weight="normal" font-style="normal" fill="#2a2a2a" >−10</text>
<line x1="314.1" y1="405.5" x2="317.4" y2="405.5" stroke="#1a1a1a" stroke-width="1.0"/>
<text x="311.3" y="408.6" font-size="9" text-anchor="end" font-weight="normal" font-style="normal" fill="#2a2a2a" >−20</text>
<text x="296.9" y="230.5" font-size="9.6" text-anchor="start" font-weight="normal" font-style="italic" fill="#1e1e1e" textLength="31.2" lengthAdjust="spacingAndGlyphs">CDC20</text>
<g transform="translate(277.10,322.20) rotate(-90) scale(0.64,1)"><text x="0" y="0" font-size="10.2" text-anchor="middle" fill="#151515" stroke="#151515" stroke-width="0.35" textLength="81.9" lengthAdjust="spacing">RNA expression</text></g>
<g transform="translate(289.20,323.20) rotate(-90) scale(0.64,1)"><text x="0" y="0" font-size="10.2" text-anchor="middle" fill="#151515" stroke="#151515" stroke-width="0.35" textLength="100.8" lengthAdjust="spacing">(log 2 fold change)</text></g>
<line x1="399.8" y1="235.5" x2="455.4" y2="235.5" stroke="#333" stroke-width="1.0"/>
<line x1="399.5" y1="234.6" x2="399.5" y2="280.6" stroke="#333" stroke-width="1.0"/>
<line x1="455.5" y1="234.6" x2="455.5" y2="269.1" stroke="#333" stroke-width="1.0"/>
<circle cx="425.67" cy="230.00" r="1.2" fill="#1a1a1a"/>
<circle cx="429.12" cy="230.00" r="1.2" fill="#1a1a1a"/>
<line x1="317.0" y1="322.5" x2="482.5" y2="322.5" stroke="#262626" stroke-width="1.5"/>
<line x1="344.5" y1="344.6" x2="344.5" y2="354.2" stroke="#333" stroke-width="0.9"/>
<path d="M344.80,250.10 L344.88,250.71 L345.00,251.51 L345.13,252.49 L345.27,253.59 L345.40,254.77 L345.50,256.00 L345.57,257.34 L345.63,258.84 L345.68,260.42 L345.71,262.02 L345.75,263.57 L345.80,265.00 L345.84,266.24 L345.87,267.33 L345.91,268.37 L345.95,269.46 L346.01,270.70 L346.10,272.20 L346.23,274.02 L346.39,276.09 L346.57,278.31 L346.76,280.58 L346.94,282.81 L347.10,284.90 L347.25,286.88 L347.40,288.84 L347.54,290.76 L347.67,292.61 L347.79,294.37 L347.90,296.00 L347.98,297.50 L348.04,298.88 L348.09,300.16 L348.14,301.38 L348.21,302.55 L348.30,303.70 L348.42,304.84 L348.54,305.96 L348.69,307.04 L348.84,308.05 L349.02,308.98 L349.20,309.80 L349.38,310.49 L349.56,311.06 L349.76,311.54 L349.98,311.98 L350.26,312.42 L350.60,312.90 L351.02,313.42 L351.49,313.94 L352.02,314.46 L352.59,314.97 L353.18,315.49 L353.80,316.00 L354.45,316.50 L355.15,316.99 L355.88,317.48 L356.62,317.97 L357.36,318.48 L358.10,319.00 L358.88,319.57 L359.73,320.19 L360.58,320.82 L361.37,321.42 L362.03,321.96 L362.50,322.40 L362.75,322.70 L362.83,322.88 L362.78,322.99 L362.65,323.10 L362.47,323.25 L362.30,323.50 L362.13,323.84 L361.93,324.24 L361.68,324.68 L361.39,325.16 L361.03,325.67 L360.60,326.20 L360.08,326.77 L359.47,327.39 L358.81,328.03 L358.10,328.69 L357.39,329.35 L356.70,330.00 L356.00,330.64 L355.25,331.29 L354.50,331.94 L353.77,332.58 L353.09,333.20 L352.50,333.80 L352.01,334.37 L351.60,334.92 L351.24,335.45 L350.91,335.97 L350.57,336.49 L350.20,337.00 L349.78,337.51 L349.35,338.01 L348.91,338.51 L348.47,339.01 L348.07,339.50 L347.70,340.00 L347.38,340.52 L347.09,341.05 L346.82,341.59 L346.58,342.10 L346.34,342.58 L346.10,343.00 L345.85,343.37 L345.60,343.70 L345.35,343.99 L345.13,344.24 L344.94,344.44 L344.80,344.60 L344.80,344.60 L344.66,344.44 L344.47,344.24 L344.25,343.99 L344.00,343.70 L343.75,343.37 L343.50,343.00 L343.26,342.58 L343.02,342.10 L342.78,341.59 L342.51,341.05 L342.22,340.52 L341.90,340.00 L341.53,339.50 L341.13,339.01 L340.69,338.51 L340.25,338.01 L339.82,337.51 L339.40,337.00 L339.03,336.49 L338.69,335.97 L338.36,335.45 L338.00,334.92 L337.59,334.37 L337.10,333.80 L336.51,333.20 L335.83,332.58 L335.10,331.94 L334.35,331.29 L333.60,330.64 L332.90,330.00 L332.21,329.35 L331.50,328.69 L330.79,328.03 L330.13,327.39 L329.52,326.77 L329.00,326.20 L328.57,325.67 L328.21,325.16 L327.92,324.68 L327.67,324.24 L327.47,323.84 L327.30,323.50 L327.13,323.25 L326.95,323.10 L326.82,322.99 L326.77,322.88 L326.85,322.70 L327.10,322.40 L327.57,321.96 L328.23,321.42 L329.02,320.82 L329.87,320.19 L330.72,319.57 L331.50,319.00 L332.24,318.48 L332.98,317.97 L333.73,317.48 L334.45,316.99 L335.15,316.50 L335.80,316.00 L336.42,315.49 L337.01,314.97 L337.58,314.46 L338.11,313.94 L338.58,313.42 L339.00,312.90 L339.34,312.42 L339.62,311.98 L339.84,311.54 L340.04,311.06 L340.22,310.49 L340.40,309.80 L340.58,308.98 L340.76,308.05 L340.91,307.04 L341.06,305.96 L341.18,304.84 L341.30,303.70 L341.39,302.55 L341.46,301.38 L341.51,300.16 L341.56,298.88 L341.62,297.50 L341.70,296.00 L341.81,294.37 L341.93,292.61 L342.06,290.76 L342.20,288.84 L342.35,286.88 L342.50,284.90 L342.66,282.81 L342.84,280.58 L343.03,278.31 L343.21,276.09 L343.37,274.02 L343.50,272.20 L343.59,270.70 L343.65,269.46 L343.69,268.37 L343.73,267.33 L343.76,266.24 L343.80,265.00 L343.85,263.57 L343.89,262.02 L343.93,260.42 L343.97,258.84 L344.03,257.34 L344.10,256.00 L344.20,254.77 L344.33,253.59 L344.47,252.49 L344.60,251.51 L344.72,250.71 L344.80,250.10Z" fill="#2fa3dc" stroke="#0e1620" stroke-width="1.0" stroke-linejoin="round"/>
<circle cx="344.8" cy="287.2" r="1.0" fill="#0b2545"/>
<circle cx="344.8" cy="290.2" r="1.0" fill="#0b2545"/>
<circle cx="344.8" cy="293.5" r="1.0" fill="#0b2545"/>
<circle cx="344.6" cy="296.5" r="1.0" fill="#0b2545"/>
<circle cx="345.0" cy="299.9" r="1.0" fill="#0b2545"/>
<circle cx="345.0" cy="303.2" r="1.0" fill="#0b2545"/>
<circle cx="344.9" cy="306.0" r="1.0" fill="#0b2545"/>
<circle cx="344.8" cy="309.2" r="1.0" fill="#0b2545"/>
<circle cx="344.7" cy="312.4" r="1.0" fill="#0b2545"/>
<circle cx="340.5" cy="316.0" r="1.0" fill="#0b2545"/>
<circle cx="344.9" cy="315.8" r="1.0" fill="#0b2545"/>
<circle cx="336.1" cy="319.2" r="1.0" fill="#0b2545"/>
<circle cx="344.9" cy="318.9" r="1.0" fill="#0b2545"/>
<circle cx="349.0" cy="318.8" r="1.0" fill="#0b2545"/>
<circle cx="332.1" cy="322.1" r="1.0" fill="#0b2545"/>
<circle cx="344.7" cy="322.4" r="1.0" fill="#0b2545"/>
<circle cx="349.3" cy="322.1" r="1.0" fill="#0b2545"/>
<circle cx="353.5" cy="322.3" r="1.0" fill="#0b2545"/>
<circle cx="357.5" cy="322.1" r="1.0" fill="#0b2545"/>
<circle cx="340.4" cy="325.2" r="1.0" fill="#0b2545"/>
<circle cx="344.9" cy="325.2" r="1.0" fill="#0b2545"/>
<circle cx="349.1" cy="325.2" r="1.0" fill="#0b2545"/>
<circle cx="357.8" cy="325.2" r="1.0" fill="#0b2545"/>
<circle cx="336.1" cy="328.5" r="1.0" fill="#0b2545"/>
<circle cx="344.7" cy="328.8" r="1.0" fill="#0b2545"/>
<circle cx="349.0" cy="328.8" r="1.0" fill="#0b2545"/>
<circle cx="340.7" cy="331.7" r="1.0" fill="#0b2545"/>
<circle cx="344.9" cy="331.7" r="1.0" fill="#0b2545"/>
<circle cx="348.9" cy="331.6" r="1.0" fill="#0b2545"/>
<circle cx="344.9" cy="334.9" r="1.0" fill="#0b2545"/>
<circle cx="349.3" cy="335.0" r="1.0" fill="#0b2545"/>
<circle cx="345.0" cy="338.0" r="1.0" fill="#0b2545"/>
<circle cx="345.0" cy="341.6" r="1.0" fill="#0b2545"/>
<line x1="399.5" y1="287.7" x2="399.5" y2="296.5" stroke="#333" stroke-width="0.9"/>
<line x1="399.5" y1="348.9" x2="399.5" y2="358.2" stroke="#333" stroke-width="0.9"/>
<path d="M399.80,296.50 L400.01,296.88 L400.30,297.40 L400.64,298.01 L401.00,298.68 L401.37,299.36 L401.70,300.00 L402.00,300.61 L402.30,301.24 L402.59,301.88 L402.88,302.51 L403.18,303.16 L403.50,303.80 L403.83,304.45 L404.17,305.10 L404.52,305.75 L404.87,306.40 L405.23,307.05 L405.60,307.70 L405.97,308.34 L406.35,308.97 L406.74,309.60 L407.13,310.23 L407.51,310.86 L407.90,311.50 L408.28,312.15 L408.67,312.80 L409.05,313.45 L409.43,314.10 L409.82,314.75 L410.20,315.40 L410.58,316.04 L410.95,316.67 L411.32,317.31 L411.70,317.94 L412.09,318.57 L412.50,319.20 L412.93,319.84 L413.38,320.47 L413.84,321.11 L414.31,321.75 L414.76,322.38 L415.20,323.00 L415.66,323.62 L416.17,324.23 L416.66,324.84 L417.10,325.44 L417.43,326.03 L417.60,326.60 L417.61,327.14 L417.51,327.64 L417.30,328.14 L416.99,328.63 L416.59,329.15 L416.10,329.70 L415.48,330.29 L414.72,330.91 L413.87,331.55 L412.98,332.20 L412.10,332.85 L411.30,333.50 L410.55,334.15 L409.81,334.80 L409.08,335.45 L408.38,336.10 L407.72,336.75 L407.10,337.40 L406.53,338.04 L406.01,338.67 L405.53,339.31 L405.07,339.94 L404.63,340.57 L404.20,341.20 L403.78,341.83 L403.38,342.46 L403.00,343.09 L402.63,343.73 L402.26,344.36 L401.90,345.00 L401.51,345.69 L401.11,346.44 L400.71,347.19 L400.34,347.89 L400.03,348.47 L399.80,348.90 L399.80,348.90 L399.57,348.47 L399.26,347.89 L398.89,347.19 L398.49,346.44 L398.09,345.69 L397.70,345.00 L397.34,344.36 L396.97,343.73 L396.60,343.09 L396.22,342.46 L395.82,341.83 L395.40,341.20 L394.97,340.57 L394.53,339.94 L394.07,339.31 L393.59,338.67 L393.07,338.04 L392.50,337.40 L391.88,336.75 L391.22,336.10 L390.52,335.45 L389.79,334.80 L389.05,334.15 L388.30,333.50 L387.50,332.85 L386.62,332.20 L385.73,331.55 L384.88,330.91 L384.12,330.29 L383.50,329.70 L383.01,329.15 L382.61,328.63 L382.30,328.14 L382.09,327.64 L381.99,327.14 L382.00,326.60 L382.17,326.03 L382.50,325.44 L382.94,324.84 L383.43,324.23 L383.94,323.62 L384.40,323.00 L384.84,322.38 L385.29,321.75 L385.76,321.11 L386.22,320.47 L386.67,319.84 L387.10,319.20 L387.51,318.57 L387.90,317.94 L388.28,317.31 L388.65,316.67 L389.02,316.04 L389.40,315.40 L389.78,314.75 L390.17,314.10 L390.55,313.45 L390.93,312.80 L391.32,312.15 L391.70,311.50 L392.09,310.86 L392.47,310.23 L392.86,309.60 L393.25,308.97 L393.63,308.34 L394.00,307.70 L394.37,307.05 L394.73,306.40 L395.08,305.75 L395.43,305.10 L395.77,304.45 L396.10,303.80 L396.42,303.16 L396.72,302.51 L397.01,301.88 L397.30,301.24 L397.60,300.61 L397.90,300.00 L398.23,299.36 L398.60,298.68 L398.96,298.01 L399.30,297.40 L399.59,296.88 L399.80,296.50Z" fill="#2fa3dc" stroke="#0e1620" stroke-width="1.0" stroke-linejoin="round"/>
<circle cx="399.9" cy="301.1" r="1.0" fill="#0b2545"/>
<circle cx="399.7" cy="307.2" r="1.0" fill="#0b2545"/>
<circle cx="395.6" cy="310.4" r="1.0" fill="#0b2545"/>
<circle cx="399.7" cy="310.5" r="1.0" fill="#0b2545"/>
<circle cx="404.3" cy="310.7" r="1.0" fill="#0b2545"/>
<circle cx="395.4" cy="313.6" r="1.0" fill="#0b2545"/>
<circle cx="400.0" cy="317.1" r="1.0" fill="#0b2545"/>
<circle cx="404.3" cy="317.0" r="1.0" fill="#0b2545"/>
<circle cx="395.4" cy="320.2" r="1.0" fill="#0b2545"/>
<circle cx="399.6" cy="320.4" r="1.0" fill="#0b2545"/>
<circle cx="391.3" cy="323.2" r="1.0" fill="#0b2545"/>
<circle cx="395.5" cy="323.2" r="1.0" fill="#0b2545"/>
<circle cx="399.8" cy="323.3" r="1.0" fill="#0b2545"/>
<circle cx="404.2" cy="323.3" r="1.0" fill="#0b2545"/>
<circle cx="408.4" cy="323.3" r="1.0" fill="#0b2545"/>
<circle cx="412.5" cy="323.3" r="1.0" fill="#0b2545"/>
<circle cx="387.0" cy="326.8" r="1.0" fill="#0b2545"/>
<circle cx="391.3" cy="326.8" r="1.0" fill="#0b2545"/>
<circle cx="395.3" cy="326.8" r="1.0" fill="#0b2545"/>
<circle cx="403.9" cy="326.6" r="1.0" fill="#0b2545"/>
<circle cx="391.4" cy="329.7" r="1.0" fill="#0b2545"/>
<circle cx="400.0" cy="329.9" r="1.0" fill="#0b2545"/>
<circle cx="408.5" cy="329.8" r="1.0" fill="#0b2545"/>
<circle cx="391.3" cy="332.9" r="1.0" fill="#0b2545"/>
<circle cx="395.3" cy="333.1" r="1.0" fill="#0b2545"/>
<circle cx="399.7" cy="332.8" r="1.0" fill="#0b2545"/>
<circle cx="404.1" cy="333.0" r="1.0" fill="#0b2545"/>
<circle cx="408.4" cy="332.9" r="1.0" fill="#0b2545"/>
<circle cx="395.3" cy="336.4" r="1.0" fill="#0b2545"/>
<circle cx="399.7" cy="336.1" r="1.0" fill="#0b2545"/>
<circle cx="399.8" cy="339.3" r="1.0" fill="#0b2545"/>
<line x1="455.5" y1="279.1" x2="455.5" y2="290.2" stroke="#333" stroke-width="0.9"/>
<line x1="455.5" y1="339.8" x2="455.5" y2="372.5" stroke="#333" stroke-width="0.9"/>
<path d="M455.20,290.20 L455.43,290.53 L455.74,290.97 L456.11,291.51 L456.51,292.08 L456.91,292.66 L457.30,293.20 L457.67,293.71 L458.05,294.23 L458.44,294.74 L458.83,295.26 L459.21,295.78 L459.60,296.30 L459.98,296.82 L460.35,297.33 L460.72,297.85 L461.10,298.37 L461.49,298.88 L461.90,299.40 L462.33,299.92 L462.78,300.44 L463.24,300.96 L463.70,301.47 L464.16,301.99 L464.60,302.50 L465.02,303.00 L465.43,303.50 L465.84,304.00 L466.24,304.50 L466.66,305.00 L467.10,305.50 L467.57,306.01 L468.06,306.53 L468.56,307.04 L469.06,307.56 L469.55,308.08 L470.00,308.60 L470.44,309.13 L470.87,309.66 L471.29,310.20 L471.67,310.73 L472.02,311.23 L472.30,311.70 L472.53,312.12 L472.73,312.50 L472.89,312.85 L472.99,313.20 L473.03,313.58 L473.00,314.00 L472.91,314.47 L472.76,314.97 L472.55,315.49 L472.27,316.02 L471.93,316.56 L471.50,317.10 L470.98,317.64 L470.37,318.19 L469.69,318.74 L468.95,319.29 L468.18,319.85 L467.40,320.40 L466.54,320.95 L465.59,321.51 L464.60,322.06 L463.64,322.61 L462.79,323.16 L462.10,323.70 L461.60,324.22 L461.23,324.72 L460.97,325.22 L460.77,325.72 L460.59,326.25 L460.40,326.80 L460.22,327.39 L460.08,328.01 L459.96,328.65 L459.86,329.30 L459.74,329.95 L459.60,330.60 L459.44,331.25 L459.27,331.93 L459.10,332.60 L458.91,333.26 L458.72,333.90 L458.50,334.50 L458.26,335.06 L458.01,335.59 L457.74,336.10 L457.46,336.59 L457.18,337.05 L456.90,337.50 L456.60,337.95 L456.28,338.40 L455.95,338.84 L455.64,339.23 L455.39,339.56 L455.20,339.80 L455.20,339.80 L455.01,339.56 L454.76,339.23 L454.45,338.84 L454.12,338.40 L453.80,337.95 L453.50,337.50 L453.22,337.05 L452.94,336.59 L452.66,336.10 L452.39,335.59 L452.14,335.06 L451.90,334.50 L451.68,333.90 L451.49,333.26 L451.30,332.60 L451.13,331.93 L450.96,331.25 L450.80,330.60 L450.66,329.95 L450.54,329.30 L450.44,328.65 L450.32,328.01 L450.18,327.39 L450.00,326.80 L449.81,326.25 L449.63,325.72 L449.43,325.22 L449.17,324.72 L448.80,324.22 L448.30,323.70 L447.61,323.16 L446.76,322.61 L445.80,322.06 L444.81,321.51 L443.86,320.95 L443.00,320.40 L442.22,319.85 L441.45,319.29 L440.71,318.74 L440.03,318.19 L439.42,317.64 L438.90,317.10 L438.47,316.56 L438.13,316.02 L437.85,315.49 L437.64,314.97 L437.49,314.47 L437.40,314.00 L437.37,313.58 L437.41,313.20 L437.51,312.85 L437.67,312.50 L437.87,312.12 L438.10,311.70 L438.38,311.23 L438.73,310.73 L439.11,310.20 L439.53,309.66 L439.96,309.13 L440.40,308.60 L440.85,308.08 L441.34,307.56 L441.84,307.04 L442.34,306.53 L442.83,306.01 L443.30,305.50 L443.74,305.00 L444.16,304.50 L444.56,304.00 L444.97,303.50 L445.38,303.00 L445.80,302.50 L446.24,301.99 L446.70,301.47 L447.16,300.96 L447.62,300.44 L448.07,299.92 L448.50,299.40 L448.91,298.88 L449.30,298.37 L449.68,297.85 L450.05,297.33 L450.42,296.82 L450.80,296.30 L451.19,295.78 L451.57,295.26 L451.96,294.74 L452.35,294.23 L452.73,293.71 L453.10,293.20 L453.49,292.66 L453.89,292.08 L454.29,291.51 L454.66,290.97 L454.97,290.53 L455.20,290.20Z" fill="#2fa3dc" stroke="#0e1620" stroke-width="1.0" stroke-linejoin="round"/>
<circle cx="455.4" cy="293.7" r="1.0" fill="#0b2545"/>
<circle cx="455.3" cy="296.8" r="1.0" fill="#0b2545"/>
<circle cx="455.0" cy="299.8" r="1.0" fill="#0b2545"/>
<circle cx="450.9" cy="303.0" r="1.0" fill="#0b2545"/>
<circle cx="455.4" cy="303.1" r="1.0" fill="#0b2545"/>
<circle cx="446.8" cy="306.5" r="1.0" fill="#0b2545"/>
<circle cx="451.0" cy="306.3" r="1.0" fill="#0b2545"/>
<circle cx="459.5" cy="306.5" r="1.0" fill="#0b2545"/>
<circle cx="442.1" cy="309.7" r="1.0" fill="#0b2545"/>
<circle cx="446.8" cy="309.3" r="1.0" fill="#0b2545"/>
<circle cx="455.4" cy="309.3" r="1.0" fill="#0b2545"/>
<circle cx="459.3" cy="309.6" r="1.0" fill="#0b2545"/>
<circle cx="464.0" cy="309.4" r="1.0" fill="#0b2545"/>
<circle cx="446.6" cy="312.9" r="1.0" fill="#0b2545"/>
<circle cx="450.8" cy="312.6" r="1.0" fill="#0b2545"/>
<circle cx="455.0" cy="312.8" r="1.0" fill="#0b2545"/>
<circle cx="459.5" cy="312.5" r="1.0" fill="#0b2545"/>
<circle cx="464.0" cy="312.6" r="1.0" fill="#0b2545"/>
<circle cx="468.3" cy="312.7" r="1.0" fill="#0b2545"/>
<circle cx="442.1" cy="316.0" r="1.0" fill="#0b2545"/>
<circle cx="446.6" cy="315.8" r="1.0" fill="#0b2545"/>
<circle cx="451.0" cy="315.8" r="1.0" fill="#0b2545"/>
<circle cx="455.4" cy="316.1" r="1.0" fill="#0b2545"/>
<circle cx="459.5" cy="316.0" r="1.0" fill="#0b2545"/>
<circle cx="463.9" cy="316.1" r="1.0" fill="#0b2545"/>
<circle cx="468.0" cy="315.7" r="1.0" fill="#0b2545"/>
<circle cx="446.4" cy="318.9" r="1.0" fill="#0b2545"/>
<circle cx="451.1" cy="319.1" r="1.0" fill="#0b2545"/>
<circle cx="455.4" cy="319.3" r="1.0" fill="#0b2545"/>
<circle cx="459.7" cy="318.9" r="1.0" fill="#0b2545"/>
<circle cx="455.2" cy="322.1" r="1.0" fill="#0b2545"/>
<circle cx="459.6" cy="322.2" r="1.0" fill="#0b2545"/>
<circle cx="455.1" cy="325.3" r="1.0" fill="#0b2545"/>
<circle cx="455.3" cy="328.7" r="1.0" fill="#0b2545"/>
<circle cx="455.2" cy="331.9" r="1.0" fill="#0b2545"/>
<circle cx="455.2" cy="335.3" r="1.0" fill="#0b2545"/>
<path d="M455.20,350.60 L455.32,350.91 L455.48,351.35 L455.68,351.86 L455.87,352.42 L456.06,352.98 L456.20,353.50 L456.31,353.99 L456.41,354.49 L456.49,354.99 L456.55,355.50 L456.59,356.00 L456.60,356.50 L456.59,357.01 L456.55,357.52 L456.49,358.03 L456.41,358.54 L456.31,359.03 L456.20,359.50 L456.06,359.97 L455.87,360.46 L455.68,360.94 L455.48,361.37 L455.32,361.73 L455.20,362.00 L455.20,362.00 L455.08,361.73 L454.92,361.37 L454.72,360.94 L454.53,360.46 L454.34,359.97 L454.20,359.50 L454.09,359.03 L453.99,358.54 L453.91,358.03 L453.85,357.52 L453.81,357.01 L453.80,356.50 L453.81,356.00 L453.85,355.50 L453.91,354.99 L453.99,354.49 L454.09,353.99 L454.20,353.50 L454.34,352.98 L454.53,352.42 L454.72,351.86 L454.92,351.35 L455.08,350.91 L455.20,350.60Z" fill="#2fa3dc" stroke="#0e1620" stroke-width="1.0" stroke-linejoin="round"/>
<text x="346.0" y="409.0" font-size="9" text-anchor="middle" font-weight="normal" font-style="normal" fill="#222" >ET</text>
<text x="402.4" y="409.0" font-size="9" text-anchor="middle" font-weight="normal" font-style="normal" fill="#222" >PV</text>
<text x="454.0" y="409.0" font-size="9" text-anchor="middle" font-weight="normal" font-style="normal" fill="#222" >MF</text>
<line x1="69.5" y1="443.7" x2="69.5" y2="611.4" stroke="#1a1a1a" stroke-width="1.2"/>
<line x1="65.9" y1="446.5" x2="69.2" y2="446.5" stroke="#1a1a1a" stroke-width="1.0"/>
<text x="63.1" y="450.2" font-size="9" text-anchor="end" font-weight="normal" font-style="normal" fill="#2a2a2a" >1.5</text>
<line x1="65.9" y1="487.5" x2="69.2" y2="487.5" stroke="#1a1a1a" stroke-width="1.0"/>
<text x="63.1" y="490.4" font-size="9" text-anchor="end" font-weight="normal" font-style="normal" fill="#2a2a2a" >1.0</text>
<line x1="65.9" y1="527.5" x2="69.2" y2="527.5" stroke="#1a1a1a" stroke-width="1.0"/>
<text x="63.1" y="530.7" font-size="9" text-anchor="end" font-weight="normal" font-style="normal" fill="#2a2a2a" >0.5</text>
<line x1="65.9" y1="567.5" x2="69.2" y2="567.5" stroke="#1a1a1a" stroke-width="1.0"/>
<text x="63.1" y="570.9" font-size="9" text-anchor="end" font-weight="normal" font-style="normal" fill="#2a2a2a" >0.0</text>
<line x1="65.9" y1="607.5" x2="69.2" y2="607.5" stroke="#1a1a1a" stroke-width="1.0"/>
<text x="63.1" y="611.2" font-size="9" text-anchor="end" font-weight="normal" font-style="normal" fill="#2a2a2a" >−0.5</text>
<g transform="translate(26.00,527.70) rotate(-90) scale(0.64,1)"><text x="0" y="0" font-size="10.2" text-anchor="middle" fill="#151515" stroke="#151515" stroke-width="0.35" textLength="93.3" lengthAdjust="spacing">Protein expression</text></g>
<g transform="translate(38.90,527.20) rotate(-90) scale(0.64,1)"><text x="0" y="0" font-size="10.2" text-anchor="middle" fill="#151515" stroke="#151515" stroke-width="0.35" textLength="104.2" lengthAdjust="spacing">(relative to β-Actin)</text></g>
<line x1="89.4" y1="446.5" x2="210.5" y2="446.5" stroke="#333" stroke-width="1.0"/>
<line x1="89.5" y1="446.0" x2="89.5" y2="461.4" stroke="#333" stroke-width="1.0"/>
<line x1="210.5" y1="446.0" x2="210.5" y2="516.0" stroke="#333" stroke-width="1.0"/>
<circle cx="144.82" cy="441.50" r="1.2" fill="#1a1a1a"/>
<circle cx="148.27" cy="441.50" r="1.2" fill="#1a1a1a"/>
<circle cx="151.72" cy="441.50" r="1.2" fill="#1a1a1a"/>
<circle cx="155.17" cy="441.50" r="1.2" fill="#1a1a1a"/>
<line x1="89.4" y1="468.5" x2="170.0" y2="468.5" stroke="#333" stroke-width="1.0"/>
<line x1="89.5" y1="467.9" x2="89.5" y2="475.3" stroke="#333" stroke-width="1.0"/>
<line x1="170.5" y1="467.9" x2="170.5" y2="516.5" stroke="#333" stroke-width="1.0"/>
<circle cx="124.52" cy="463.90" r="1.2" fill="#1a1a1a"/>
<circle cx="127.97" cy="463.90" r="1.2" fill="#1a1a1a"/>
<circle cx="131.42" cy="463.90" r="1.2" fill="#1a1a1a"/>
<circle cx="134.88" cy="463.90" r="1.2" fill="#1a1a1a"/>
<line x1="69.2" y1="567.7" x2="230.4" y2="567.7" stroke="#262626" stroke-width="1.5"/>
<line x1="89.5" y1="481.9" x2="89.5" y2="493.0" stroke="#333" stroke-width="0.9"/>
<line x1="89.5" y1="581.0" x2="89.5" y2="593.4" stroke="#333" stroke-width="0.9"/>
<path d="M89.50,493.00 L89.62,493.75 L89.79,494.79 L89.99,496.02 L90.21,497.36 L90.42,498.71 L90.60,500.00 L90.76,501.24 L90.90,502.51 L91.04,503.81 L91.19,505.11 L91.33,506.41 L91.50,507.70 L91.68,508.98 L91.87,510.27 L92.08,511.56 L92.28,512.84 L92.49,514.12 L92.70,515.40 L92.92,516.73 L93.16,518.11 L93.40,519.49 L93.63,520.81 L93.83,522.00 L94.00,523.00 L94.10,523.75 L94.15,524.28 L94.17,524.69 L94.20,525.05 L94.26,525.46 L94.40,526.00 L94.62,526.67 L94.89,527.41 L95.20,528.20 L95.53,529.01 L95.87,529.81 L96.20,530.60 L96.53,531.37 L96.86,532.13 L97.21,532.90 L97.55,533.67 L97.88,534.43 L98.20,535.20 L98.51,535.97 L98.80,536.73 L99.09,537.49 L99.37,538.26 L99.64,539.03 L99.90,539.80 L100.15,540.58 L100.39,541.36 L100.61,542.15 L100.83,542.94 L101.02,543.72 L101.20,544.50 L101.36,545.27 L101.50,546.04 L101.63,546.81 L101.74,547.57 L101.83,548.33 L101.90,549.10 L101.95,549.87 L101.97,550.63 L101.97,551.40 L101.96,552.17 L101.93,552.93 L101.90,553.70 L101.87,554.47 L101.83,555.24 L101.78,556.02 L101.71,556.79 L101.62,557.55 L101.50,558.30 L101.36,559.03 L101.21,559.74 L101.04,560.45 L100.84,561.16 L100.60,561.87 L100.30,562.60 L99.94,563.35 L99.53,564.11 L99.08,564.88 L98.60,565.66 L98.10,566.43 L97.60,567.20 L97.08,567.97 L96.51,568.73 L95.94,569.49 L95.36,570.26 L94.81,571.03 L94.30,571.80 L93.83,572.58 L93.40,573.37 L92.99,574.16 L92.59,574.94 L92.20,575.73 L91.80,576.50 L91.38,577.31 L90.93,578.18 L90.49,579.04 L90.09,579.84 L89.75,580.51 L89.50,581.00 L89.50,581.00 L89.25,580.51 L88.91,579.84 L88.51,579.04 L88.07,578.18 L87.62,577.31 L87.20,576.50 L86.80,575.73 L86.41,574.94 L86.01,574.16 L85.60,573.37 L85.17,572.58 L84.70,571.80 L84.19,571.03 L83.64,570.26 L83.06,569.49 L82.49,568.73 L81.92,567.97 L81.40,567.20 L80.90,566.43 L80.40,565.66 L79.92,564.88 L79.47,564.11 L79.06,563.35 L78.70,562.60 L78.40,561.87 L78.16,561.16 L77.96,560.45 L77.79,559.74 L77.64,559.03 L77.50,558.30 L77.38,557.55 L77.29,556.79 L77.22,556.02 L77.17,555.24 L77.13,554.47 L77.10,553.70 L77.07,552.93 L77.04,552.17 L77.03,551.40 L77.03,550.63 L77.05,549.87 L77.10,549.10 L77.17,548.33 L77.26,547.57 L77.37,546.81 L77.50,546.04 L77.64,545.27 L77.80,544.50 L77.98,543.72 L78.17,542.94 L78.39,542.15 L78.61,541.36 L78.85,540.58 L79.10,539.80 L79.36,539.03 L79.63,538.26 L79.91,537.49 L80.20,536.73 L80.49,535.97 L80.80,535.20 L81.12,534.43 L81.45,533.67 L81.79,532.90 L82.14,532.13 L82.47,531.37 L82.80,530.60 L83.13,529.81 L83.47,529.01 L83.80,528.20 L84.11,527.41 L84.38,526.67 L84.60,526.00 L84.74,525.46 L84.80,525.05 L84.83,524.69 L84.85,524.28 L84.90,523.75 L85.00,523.00 L85.17,522.00 L85.37,520.81 L85.60,519.49 L85.84,518.11 L86.08,516.73 L86.30,515.40 L86.51,514.12 L86.72,512.84 L86.92,511.56 L87.13,510.27 L87.32,508.98 L87.50,507.70 L87.67,506.41 L87.81,505.11 L87.96,503.81 L88.10,502.51 L88.24,501.24 L88.40,500.00 L88.58,498.71 L88.79,497.36 L89.01,496.02 L89.21,494.79 L89.38,493.75 L89.50,493.00Z" fill="#2fa3dc" stroke="#0e1620" stroke-width="1.0" stroke-linejoin="round"/>
<line x1="80.3" y1="536.5" x2="98.7" y2="536.5" stroke="#1a3550" stroke-width="0.6"/>
<line x1="77.8" y1="560.0" x2="101.2" y2="560.0" stroke="#1a3550" stroke-width="0.6"/>
<circle cx="85.1" cy="538.8" r="1.0" fill="#0b2545"/>
<circle cx="89.3" cy="538.5" r="1.0" fill="#0b2545"/>
<circle cx="93.7" cy="538.5" r="1.0" fill="#0b2545"/>
<circle cx="80.8" cy="541.6" r="1.0" fill="#0b2545"/>
<circle cx="89.3" cy="541.6" r="1.0" fill="#0b2545"/>
<circle cx="93.7" cy="541.8" r="1.0" fill="#0b2545"/>
<circle cx="85.3" cy="544.9" r="1.0" fill="#0b2545"/>
<circle cx="89.6" cy="544.7" r="1.0" fill="#0b2545"/>
<circle cx="89.5" cy="548.0" r="1.0" fill="#0b2545"/>
<circle cx="97.9" cy="548.0" r="1.0" fill="#0b2545"/>
<circle cx="81.0" cy="550.8" r="1.0" fill="#0b2545"/>
<circle cx="85.2" cy="550.8" r="1.0" fill="#0b2545"/>
<circle cx="89.5" cy="550.9" r="1.0" fill="#0b2545"/>
<circle cx="85.0" cy="554.0" r="1.0" fill="#0b2545"/>
<circle cx="89.6" cy="554.0" r="1.0" fill="#0b2545"/>
<circle cx="93.7" cy="554.1" r="1.0" fill="#0b2545"/>
<circle cx="85.3" cy="557.0" r="1.0" fill="#0b2545"/>
<circle cx="89.6" cy="557.3" r="1.0" fill="#0b2545"/>
<circle cx="93.6" cy="557.2" r="1.0" fill="#0b2545"/>
<circle cx="80.9" cy="560.2" r="1.0" fill="#0b2545"/>
<circle cx="85.0" cy="560.2" r="1.0" fill="#0b2545"/>
<circle cx="89.3" cy="560.4" r="1.0" fill="#0b2545"/>
<circle cx="81.0" cy="563.5" r="1.0" fill="#0b2545"/>
<circle cx="85.1" cy="563.5" r="1.0" fill="#0b2545"/>
<circle cx="93.8" cy="566.3" r="1.0" fill="#0b2545"/>
<circle cx="89.4" cy="569.4" r="1.0" fill="#0b2545"/>
<circle cx="89.5" cy="509.0" r="0.95" fill="#0b2545" stroke="#111" stroke-width="0"/>
<circle cx="89.5" cy="516.0" r="0.95" fill="#0b2545" stroke="#111" stroke-width="0"/>
<circle cx="89.5" cy="523.0" r="0.95" fill="#0b2545" stroke="#111" stroke-width="0"/>
<circle cx="89.5" cy="529.5" r="0.95" fill="#0b2545" stroke="#111" stroke-width="0"/>
<line x1="129.5" y1="489.1" x2="129.5" y2="504.9" stroke="#333" stroke-width="0.9"/>
<line x1="129.5" y1="582.0" x2="129.5" y2="598.2" stroke="#333" stroke-width="0.9"/>
<path d="M129.80,504.90 L130.00,505.41 L130.29,506.12 L130.63,506.96 L130.99,507.85 L131.32,508.72 L131.60,509.50 L131.82,510.19 L132.01,510.86 L132.19,511.50 L132.35,512.13 L132.52,512.76 L132.70,513.40 L132.90,514.04 L133.10,514.67 L133.30,515.31 L133.50,515.94 L133.70,516.57 L133.90,517.20 L134.09,517.83 L134.28,518.46 L134.46,519.09 L134.64,519.73 L134.82,520.36 L135.00,521.00 L135.18,521.64 L135.37,522.29 L135.55,522.94 L135.72,523.60 L135.88,524.25 L136.00,524.90 L136.10,525.55 L136.17,526.20 L136.23,526.86 L136.26,527.51 L136.29,528.16 L136.30,528.80 L136.30,529.41 L136.27,529.99 L136.24,530.57 L136.19,531.17 L136.14,531.84 L136.10,532.60 L136.04,533.49 L135.97,534.49 L135.89,535.55 L135.83,536.62 L135.79,537.66 L135.80,538.60 L135.85,539.46 L135.93,540.26 L136.03,541.03 L136.16,541.77 L136.32,542.49 L136.50,543.20 L136.70,543.89 L136.93,544.56 L137.19,545.20 L137.47,545.83 L137.77,546.46 L138.10,547.10 L138.47,547.74 L138.90,548.37 L139.34,549.00 L139.79,549.63 L140.22,550.26 L140.60,550.90 L140.94,551.55 L141.27,552.20 L141.57,552.85 L141.84,553.50 L142.09,554.15 L142.30,554.80 L142.48,555.44 L142.63,556.07 L142.76,556.70 L142.84,557.33 L142.89,557.96 L142.90,558.60 L142.87,559.24 L142.79,559.89 L142.68,560.54 L142.53,561.19 L142.34,561.84 L142.10,562.50 L141.81,563.15 L141.48,563.80 L141.10,564.45 L140.69,565.11 L140.25,565.79 L139.80,566.50 L139.32,567.24 L138.80,568.02 L138.26,568.81 L137.71,569.61 L137.15,570.41 L136.60,571.20 L136.04,571.98 L135.47,572.77 L134.89,573.55 L134.32,574.32 L133.79,575.08 L133.30,575.80 L132.86,576.51 L132.45,577.21 L132.08,577.89 L131.73,578.54 L131.40,579.15 L131.10,579.70 L130.82,580.20 L130.55,580.67 L130.31,581.09 L130.10,581.46 L129.93,581.77 L129.80,582.00 L129.80,582.00 L129.67,581.77 L129.50,581.46 L129.29,581.09 L129.05,580.67 L128.78,580.20 L128.50,579.70 L128.20,579.15 L127.87,578.54 L127.53,577.89 L127.15,577.21 L126.74,576.51 L126.30,575.80 L125.81,575.08 L125.28,574.32 L124.71,573.55 L124.13,572.77 L123.56,571.98 L123.00,571.20 L122.45,570.41 L121.89,569.61 L121.34,568.81 L120.80,568.02 L120.28,567.24 L119.80,566.50 L119.35,565.79 L118.91,565.11 L118.50,564.45 L118.12,563.80 L117.79,563.15 L117.50,562.50 L117.26,561.84 L117.07,561.19 L116.92,560.54 L116.81,559.89 L116.73,559.24 L116.70,558.60 L116.71,557.96 L116.76,557.33 L116.84,556.70 L116.97,556.07 L117.12,555.44 L117.30,554.80 L117.51,554.15 L117.76,553.50 L118.03,552.85 L118.33,552.20 L118.66,551.55 L119.00,550.90 L119.38,550.26 L119.81,549.63 L120.26,549.00 L120.70,548.37 L121.13,547.74 L121.50,547.10 L121.83,546.46 L122.13,545.83 L122.41,545.20 L122.67,544.56 L122.90,543.89 L123.10,543.20 L123.28,542.49 L123.44,541.77 L123.57,541.03 L123.67,540.26 L123.75,539.46 L123.80,538.60 L123.81,537.66 L123.77,536.62 L123.71,535.55 L123.63,534.49 L123.56,533.49 L123.50,532.60 L123.46,531.84 L123.41,531.17 L123.36,530.57 L123.33,529.99 L123.30,529.41 L123.30,528.80 L123.31,528.16 L123.34,527.51 L123.38,526.86 L123.43,526.20 L123.50,525.55 L123.60,524.90 L123.73,524.25 L123.88,523.60 L124.05,522.94 L124.23,522.29 L124.42,521.64 L124.60,521.00 L124.78,520.36 L124.96,519.73 L125.14,519.09 L125.32,518.46 L125.51,517.83 L125.70,517.20 L125.90,516.57 L126.10,515.94 L126.30,515.31 L126.50,514.67 L126.70,514.04 L126.90,513.40 L127.08,512.76 L127.25,512.13 L127.41,511.50 L127.59,510.86 L127.78,510.19 L128.00,509.50 L128.28,508.72 L128.61,507.85 L128.97,506.96 L129.31,506.12 L129.60,505.41 L129.80,504.90Z" fill="#2fa3dc" stroke="#0e1620" stroke-width="1.0" stroke-linejoin="round"/>
<line x1="116.8" y1="556.7" x2="142.8" y2="556.7" stroke="#1a3550" stroke-width="0.6"/>
<circle cx="129.8" cy="521.0" r="0.95" fill="#0b2545" stroke="#111" stroke-width="0"/>
<circle cx="125.5" cy="524.5" r="0.95" fill="#0b2545" stroke="#111" stroke-width="0"/>
<circle cx="129.8" cy="525.5" r="0.95" fill="#0b2545" stroke="#111" stroke-width="0"/>
<circle cx="127.5" cy="527.5" r="0.95" fill="#0b2545" stroke="#111" stroke-width="0"/>
<circle cx="132.0" cy="528.5" r="0.95" fill="#0b2545" stroke="#111" stroke-width="0"/>
<circle cx="129.8" cy="531.5" r="0.95" fill="#0b2545" stroke="#111" stroke-width="0"/>
<circle cx="129.8" cy="541.2" r="0.95" fill="#0b2545" stroke="#111" stroke-width="0"/>
<circle cx="129.8" cy="548.3" r="0.95" fill="#0b2545" stroke="#111" stroke-width="0"/>
<circle cx="121.0" cy="555.5" r="0.95" fill="#0b2545" stroke="#111" stroke-width="0"/>
<circle cx="125.0" cy="556.5" r="0.95" fill="#0b2545" stroke="#111" stroke-width="0"/>
<circle cx="129.8" cy="556.5" r="0.95" fill="#0b2545" stroke="#111" stroke-width="0"/>
<circle cx="134.0" cy="556.5" r="0.95" fill="#0b2545" stroke="#111" stroke-width="0"/>
<circle cx="138.5" cy="555.5" r="0.95" fill="#0b2545" stroke="#111" stroke-width="0"/>
<circle cx="125.5" cy="559.0" r="0.95" fill="#0b2545" stroke="#111" stroke-width="0"/>
<circle cx="125.0" cy="561.5" r="0.95" fill="#0b2545" stroke="#111" stroke-width="0"/>
<circle cx="129.8" cy="560.5" r="0.95" fill="#0b2545" stroke="#111" stroke-width="0"/>
<circle cx="134.0" cy="561.0" r="0.95" fill="#0b2545" stroke="#111" stroke-width="0"/>
<circle cx="127.5" cy="564.0" r="0.95" fill="#0b2545" stroke="#111" stroke-width="0"/>
<circle cx="123.0" cy="566.0" r="0.95" fill="#0b2545" stroke="#111" stroke-width="0"/>
<circle cx="131.5" cy="565.5" r="0.95" fill="#0b2545" stroke="#111" stroke-width="0"/>
<circle cx="136.0" cy="565.0" r="0.95" fill="#0b2545" stroke="#111" stroke-width="0"/>
<line x1="169.5" y1="572.6" x2="169.5" y2="576.1" stroke="#333" stroke-width="0.9"/>
<path d="M169.80,523.00 L169.88,523.54 L170.00,524.27 L170.14,525.15 L170.28,526.10 L170.40,527.07 L170.50,528.00 L170.56,528.89 L170.59,529.79 L170.60,530.71 L170.61,531.65 L170.64,532.61 L170.70,533.60 L170.79,534.63 L170.91,535.69 L171.05,536.78 L171.19,537.87 L171.31,538.95 L171.40,540.00 L171.45,541.03 L171.47,542.06 L171.47,543.07 L171.48,544.07 L171.51,545.05 L171.60,546.00 L171.72,546.94 L171.86,547.88 L172.03,548.80 L172.24,549.69 L172.49,550.52 L172.80,551.30 L173.17,552.00 L173.61,552.63 L174.09,553.21 L174.60,553.77 L175.14,554.33 L175.70,554.90 L176.29,555.49 L176.92,556.07 L177.58,556.66 L178.24,557.24 L178.89,557.82 L179.50,558.40 L180.14,558.99 L180.84,559.59 L181.52,560.18 L182.12,560.77 L182.57,561.35 L182.80,561.90 L182.80,562.43 L182.61,562.94 L182.27,563.43 L181.81,563.92 L181.28,564.41 L180.70,564.90 L180.02,565.40 L179.20,565.90 L178.30,566.39 L177.38,566.89 L176.49,567.39 L175.70,567.90 L174.99,568.43 L174.31,568.98 L173.68,569.54 L173.07,570.07 L172.51,570.57 L172.00,571.00 L171.52,571.37 L171.07,571.70 L170.67,571.99 L170.31,572.24 L170.02,572.44 L169.80,572.60 L169.80,572.60 L169.58,572.44 L169.29,572.24 L168.93,571.99 L168.53,571.70 L168.08,571.37 L167.60,571.00 L167.09,570.57 L166.53,570.07 L165.93,569.54 L165.29,568.98 L164.61,568.43 L163.90,567.90 L163.11,567.39 L162.22,566.89 L161.30,566.39 L160.40,565.90 L159.58,565.40 L158.90,564.90 L158.32,564.41 L157.79,563.92 L157.33,563.43 L156.99,562.94 L156.80,562.43 L156.80,561.90 L157.03,561.35 L157.48,560.77 L158.08,560.18 L158.76,559.59 L159.46,558.99 L160.10,558.40 L160.71,557.82 L161.36,557.24 L162.03,556.66 L162.68,556.07 L163.31,555.49 L163.90,554.90 L164.46,554.33 L165.00,553.77 L165.51,553.21 L165.99,552.63 L166.43,552.00 L166.80,551.30 L167.11,550.52 L167.36,549.69 L167.57,548.80 L167.74,547.88 L167.88,546.94 L168.00,546.00 L168.09,545.05 L168.12,544.07 L168.13,543.07 L168.13,542.06 L168.15,541.03 L168.20,540.00 L168.29,538.95 L168.41,537.87 L168.55,536.78 L168.69,535.69 L168.81,534.63 L168.90,533.60 L168.96,532.61 L168.99,531.65 L169.00,530.71 L169.01,529.79 L169.04,528.89 L169.10,528.00 L169.20,527.07 L169.32,526.10 L169.46,525.15 L169.60,524.27 L169.72,523.54 L169.80,523.00Z" fill="#2fa3dc" stroke="#0e1620" stroke-width="1.3" stroke-linejoin="round"/>
<circle cx="169.7" cy="528.4" r="1.0" fill="#0b2545"/>
<circle cx="169.8" cy="530.3" r="1.0" fill="#0b2545"/>
<circle cx="170.0" cy="532.4" r="1.0" fill="#0b2545"/>
<circle cx="169.7" cy="534.7" r="1.0" fill="#0b2545"/>
<circle cx="169.9" cy="539.2" r="1.0" fill="#0b2545"/>
<circle cx="169.8" cy="541.2" r="1.0" fill="#0b2545"/>
<circle cx="169.8" cy="543.7" r="1.0" fill="#0b2545"/>
<circle cx="169.6" cy="545.9" r="1.0" fill="#0b2545"/>
<circle cx="169.8" cy="547.9" r="1.0" fill="#0b2545"/>
<circle cx="169.9" cy="550.2" r="1.0" fill="#0b2545"/>
<circle cx="167.4" cy="552.4" r="1.0" fill="#0b2545"/>
<circle cx="169.7" cy="552.5" r="1.0" fill="#0b2545"/>
<circle cx="172.1" cy="552.6" r="1.0" fill="#0b2545"/>
<circle cx="167.1" cy="554.4" r="1.0" fill="#0b2545"/>
<circle cx="169.6" cy="554.5" r="1.0" fill="#0b2545"/>
<circle cx="172.4" cy="554.6" r="1.0" fill="#0b2545"/>
<circle cx="167.2" cy="557.0" r="1.0" fill="#0b2545"/>
<circle cx="170.0" cy="556.9" r="1.0" fill="#0b2545"/>
<circle cx="174.7" cy="557.0" r="1.0" fill="#0b2545"/>
<circle cx="162.5" cy="559.2" r="1.0" fill="#0b2545"/>
<circle cx="164.6" cy="559.2" r="1.0" fill="#0b2545"/>
<circle cx="169.9" cy="559.1" r="1.0" fill="#0b2545"/>
<circle cx="172.1" cy="559.1" r="1.0" fill="#0b2545"/>
<circle cx="159.6" cy="561.0" r="1.0" fill="#0b2545"/>
<circle cx="162.2" cy="561.0" r="1.0" fill="#0b2545"/>
<circle cx="164.8" cy="561.0" r="1.0" fill="#0b2545"/>
<circle cx="167.1" cy="561.0" r="1.0" fill="#0b2545"/>
<circle cx="170.0" cy="561.1" r="1.0" fill="#0b2545"/>
<circle cx="172.5" cy="561.1" r="1.0" fill="#0b2545"/>
<circle cx="175.0" cy="561.3" r="1.0" fill="#0b2545"/>
<circle cx="177.4" cy="561.2" r="1.0" fill="#0b2545"/>
<circle cx="179.9" cy="561.3" r="1.0" fill="#0b2545"/>
<circle cx="159.7" cy="563.3" r="1.0" fill="#0b2545"/>
<circle cx="164.9" cy="563.4" r="1.0" fill="#0b2545"/>
<circle cx="167.3" cy="563.6" r="1.0" fill="#0b2545"/>
<circle cx="169.7" cy="563.2" r="1.0" fill="#0b2545"/>
<circle cx="172.3" cy="563.5" r="1.0" fill="#0b2545"/>
<circle cx="177.5" cy="563.6" r="1.0" fill="#0b2545"/>
<circle cx="179.7" cy="563.3" r="1.0" fill="#0b2545"/>
<circle cx="164.9" cy="565.7" r="1.0" fill="#0b2545"/>
<circle cx="167.1" cy="565.7" r="1.0" fill="#0b2545"/>
<circle cx="169.8" cy="565.8" r="1.0" fill="#0b2545"/>
<circle cx="172.2" cy="565.4" r="1.0" fill="#0b2545"/>
<circle cx="174.7" cy="565.4" r="1.0" fill="#0b2545"/>
<circle cx="177.4" cy="565.7" r="1.0" fill="#0b2545"/>
<circle cx="164.7" cy="568.0" r="1.0" fill="#0b2545"/>
<circle cx="167.2" cy="568.0" r="1.0" fill="#0b2545"/>
<circle cx="169.7" cy="567.9" r="1.0" fill="#0b2545"/>
<circle cx="172.2" cy="567.7" r="1.0" fill="#0b2545"/>
<circle cx="174.9" cy="567.9" r="1.0" fill="#0b2545"/>
<circle cx="167.5" cy="569.8" r="1.0" fill="#0b2545"/>
<circle cx="170.0" cy="570.1" r="1.0" fill="#0b2545"/>
<circle cx="172.2" cy="569.8" r="1.0" fill="#0b2545"/>
<path d="M210.40,529.70 L210.51,530.33 L210.67,531.20 L210.86,532.23 L211.05,533.33 L211.24,534.42 L211.40,535.40 L211.54,536.23 L211.67,536.96 L211.79,537.67 L211.91,538.44 L212.01,539.36 L212.10,540.50 L212.16,541.98 L212.20,543.75 L212.22,545.66 L212.26,547.56 L212.31,549.29 L212.40,550.70 L212.51,551.74 L212.63,552.52 L212.76,553.13 L212.94,553.66 L213.18,554.19 L213.50,554.80 L213.91,555.48 L214.40,556.17 L214.95,556.85 L215.54,557.53 L216.17,558.22 L216.80,558.90 L217.48,559.60 L218.22,560.31 L218.99,561.02 L219.76,561.71 L220.47,562.38 L221.10,563.00 L221.70,563.56 L222.30,564.08 L222.86,564.56 L223.32,565.03 L223.62,565.51 L223.70,566.00 L223.54,566.51 L223.16,567.03 L222.63,567.54 L221.99,568.06 L221.30,568.58 L220.60,569.10 L219.84,569.62 L218.97,570.13 L218.05,570.65 L217.13,571.17 L216.26,571.68 L215.50,572.20 L214.85,572.72 L214.28,573.24 L213.76,573.76 L213.28,574.27 L212.83,574.79 L212.40,575.30 L211.98,575.84 L211.58,576.42 L211.21,576.99 L210.88,577.53 L210.60,577.97 L210.40,578.30 L210.40,578.30 L210.20,577.97 L209.92,577.53 L209.59,576.99 L209.22,576.42 L208.82,575.84 L208.40,575.30 L207.97,574.79 L207.52,574.27 L207.04,573.76 L206.52,573.24 L205.95,572.72 L205.30,572.20 L204.54,571.68 L203.67,571.17 L202.75,570.65 L201.83,570.13 L200.96,569.62 L200.20,569.10 L199.50,568.58 L198.81,568.06 L198.17,567.54 L197.64,567.03 L197.26,566.51 L197.10,566.00 L197.18,565.51 L197.48,565.03 L197.94,564.56 L198.50,564.08 L199.10,563.56 L199.70,563.00 L200.33,562.38 L201.04,561.71 L201.81,561.02 L202.58,560.31 L203.32,559.60 L204.00,558.90 L204.63,558.22 L205.26,557.53 L205.85,556.85 L206.40,556.17 L206.89,555.48 L207.30,554.80 L207.62,554.19 L207.86,553.66 L208.04,553.13 L208.17,552.52 L208.29,551.74 L208.40,550.70 L208.49,549.29 L208.54,547.56 L208.58,545.66 L208.60,543.75 L208.64,541.98 L208.70,540.50 L208.79,539.36 L208.89,538.44 L209.01,537.67 L209.13,536.96 L209.26,536.23 L209.40,535.40 L209.56,534.42 L209.75,533.33 L209.94,532.23 L210.13,531.20 L210.29,530.33 L210.40,529.70Z" fill="#33aae3" stroke="none" stroke-width="1.0" stroke-linejoin="round"/>
<circle cx="210.2" cy="535.9" r="1.0" fill="#0b2545"/>
<circle cx="210.2" cy="538.4" r="1.0" fill="#0b2545"/>
<circle cx="210.5" cy="541.0" r="1.0" fill="#0b2545"/>
<circle cx="210.5" cy="543.6" r="1.0" fill="#0b2545"/>
<circle cx="210.4" cy="546.4" r="1.0" fill="#0b2545"/>
<circle cx="210.2" cy="551.8" r="1.0" fill="#0b2545"/>
<circle cx="208.2" cy="554.1" r="1.0" fill="#0b2545"/>
<circle cx="210.6" cy="554.1" r="1.0" fill="#0b2545"/>
<circle cx="212.4" cy="554.2" r="1.0" fill="#0b2545"/>
<circle cx="210.3" cy="556.7" r="1.0" fill="#0b2545"/>
<circle cx="206.5" cy="559.6" r="1.0" fill="#0b2545"/>
<circle cx="208.3" cy="559.5" r="1.0" fill="#0b2545"/>
<circle cx="210.2" cy="559.5" r="1.0" fill="#0b2545"/>
<circle cx="212.2" cy="559.3" r="1.0" fill="#0b2545"/>
<circle cx="214.3" cy="559.5" r="1.0" fill="#0b2545"/>
<circle cx="200.0" cy="566.6" r="1.1" fill="#0b2545" stroke="#111" stroke-width="0"/>
<circle cx="202.1" cy="567.2" r="1.1" fill="#0b2545" stroke="#111" stroke-width="0"/>
<circle cx="204.2" cy="566.6" r="1.1" fill="#0b2545" stroke="#111" stroke-width="0"/>
<circle cx="206.3" cy="567.2" r="1.1" fill="#0b2545" stroke="#111" stroke-width="0"/>
<circle cx="208.4" cy="566.6" r="1.1" fill="#0b2545" stroke="#111" stroke-width="0"/>
<circle cx="210.5" cy="567.2" r="1.1" fill="#0b2545" stroke="#111" stroke-width="0"/>
<circle cx="212.6" cy="566.6" r="1.1" fill="#0b2545" stroke="#111" stroke-width="0"/>
<circle cx="214.7" cy="567.2" r="1.1" fill="#0b2545" stroke="#111" stroke-width="0"/>
<circle cx="216.8" cy="566.6" r="1.1" fill="#0b2545" stroke="#111" stroke-width="0"/>
<circle cx="218.9" cy="567.2" r="1.1" fill="#0b2545" stroke="#111" stroke-width="0"/>
<circle cx="221.0" cy="566.6" r="1.1" fill="#0b2545" stroke="#111" stroke-width="0"/>
<text x="88.9" y="608.0" font-size="9" text-anchor="middle" font-weight="normal" font-style="normal" fill="#222" >Control</text>
<text x="130.0" y="608.0" font-size="9" text-anchor="middle" font-weight="normal" font-style="normal" fill="#222" >ET</text>
<text x="170.0" y="608.0" font-size="9" text-anchor="middle" font-weight="normal" font-style="normal" fill="#222" >PV</text>
<text x="211.2" y="608.0" font-size="9" text-anchor="middle" font-weight="normal" font-style="normal" fill="#222" >MF</text>
<text x="49.6" y="625.5" font-size="9" text-anchor="start" font-weight="normal" font-style="normal" fill="#222" >ENKUR</text>
<line x1="317.5" y1="447.2" x2="317.5" y2="611.4" stroke="#1a1a1a" stroke-width="1.2"/>
<line x1="313.9" y1="450.5" x2="317.2" y2="450.5" stroke="#1a1a1a" stroke-width="1.0"/>
<text x="311.1" y="454.1" font-size="9" text-anchor="end" font-weight="normal" font-style="normal" fill="#2a2a2a" >1.5</text>
<line x1="313.9" y1="490.5" x2="317.2" y2="490.5" stroke="#1a1a1a" stroke-width="1.0"/>
<text x="311.1" y="493.3" font-size="9" text-anchor="end" font-weight="normal" font-style="normal" fill="#2a2a2a" >1.0</text>
<line x1="313.9" y1="529.5" x2="317.2" y2="529.5" stroke="#1a1a1a" stroke-width="1.0"/>
<text x="311.1" y="532.6" font-size="9" text-anchor="end" font-weight="normal" font-style="normal" fill="#2a2a2a" >0.5</text>
<line x1="313.9" y1="568.5" x2="317.2" y2="568.5" stroke="#1a1a1a" stroke-width="1.0"/>
<text x="311.1" y="571.8" font-size="9" text-anchor="end" font-weight="normal" font-style="normal" fill="#2a2a2a" >0.0</text>
<line x1="313.9" y1="607.5" x2="317.2" y2="607.5" stroke="#1a1a1a" stroke-width="1.0"/>
<text x="311.1" y="611.1" font-size="9" text-anchor="end" font-weight="normal" font-style="normal" fill="#2a2a2a" >−0.5</text>
<g transform="translate(274.10,529.60) rotate(-90) scale(0.64,1)"><text x="0" y="0" font-size="10.2" text-anchor="middle" fill="#151515" stroke="#151515" stroke-width="0.35" textLength="94.4" lengthAdjust="spacing">Protein expression</text></g>
<g transform="translate(287.40,529.20) rotate(-90) scale(0.64,1)"><text x="0" y="0" font-size="10.2" text-anchor="middle" fill="#151515" stroke="#151515" stroke-width="0.35" textLength="105.6" lengthAdjust="spacing">(relative to β-Actin)</text></g>
<line x1="337.7" y1="440.5" x2="456.0" y2="440.5" stroke="#333" stroke-width="1.0"/>
<line x1="337.5" y1="439.8" x2="337.5" y2="455.4" stroke="#333" stroke-width="1.0"/>
<line x1="456.5" y1="439.8" x2="456.5" y2="468.4" stroke="#333" stroke-width="1.0"/>
<circle cx="391.62" cy="435.10" r="1.2" fill="#1a1a1a"/>
<circle cx="395.07" cy="435.10" r="1.2" fill="#1a1a1a"/>
<circle cx="398.52" cy="435.10" r="1.2" fill="#1a1a1a"/>
<circle cx="401.98" cy="435.10" r="1.2" fill="#1a1a1a"/>
<line x1="337.7" y1="461.5" x2="377.7" y2="461.5" stroke="#333" stroke-width="1.0"/>
<line x1="337.5" y1="461.1" x2="337.5" y2="552.0" stroke="#333" stroke-width="1.0"/>
<line x1="377.5" y1="461.1" x2="377.5" y2="503.6" stroke="#333" stroke-width="1.0"/>
<circle cx="355.77" cy="456.10" r="1.2" fill="#1a1a1a"/>
<circle cx="359.22" cy="456.10" r="1.2" fill="#1a1a1a"/>
<line x1="317.2" y1="568.7" x2="475.8" y2="568.7" stroke="#262626" stroke-width="1.5"/>
<line x1="337.5" y1="569.0" x2="337.5" y2="572.7" stroke="#333" stroke-width="0.9"/>
<path d="M337.80,560.20 L337.96,560.39 L338.17,560.66 L338.43,560.98 L338.71,561.32 L339.00,561.67 L339.30,562.00 L339.58,562.32 L339.86,562.65 L340.14,562.99 L340.47,563.33 L340.85,563.66 L341.30,564.00 L341.84,564.34 L342.46,564.69 L343.12,565.04 L343.83,565.38 L344.56,565.70 L345.30,566.00 L346.16,566.27 L347.18,566.52 L348.22,566.75 L349.14,566.97 L349.82,567.19 L350.10,567.40 L349.95,567.61 L349.48,567.81 L348.75,568.01 L347.84,568.21 L346.84,568.40 L345.80,568.60 L344.59,568.81 L343.11,569.04 L341.53,569.28 L340.01,569.49 L338.71,569.67 L337.80,569.80 L337.80,569.80 L336.89,569.67 L335.59,569.49 L334.07,569.28 L332.49,569.04 L331.01,568.81 L329.80,568.60 L328.76,568.40 L327.76,568.21 L326.85,568.01 L326.12,567.81 L325.65,567.61 L325.50,567.40 L325.78,567.19 L326.46,566.97 L327.38,566.75 L328.42,566.52 L329.44,566.27 L330.30,566.00 L331.04,565.70 L331.77,565.38 L332.48,565.04 L333.14,564.69 L333.76,564.34 L334.30,564.00 L334.75,563.66 L335.13,563.33 L335.46,562.99 L335.74,562.65 L336.02,562.32 L336.30,562.00 L336.60,561.67 L336.89,561.32 L337.18,560.98 L337.43,560.66 L337.64,560.39 L337.80,560.20Z" fill="#2f8fc8" stroke="#0e1620" stroke-width="1.2" stroke-linejoin="round"/>
<path d="M325.8,567.8 Q338,565.4 351,567.8 Q338,570.4 325.8,567.8Z" fill="#0e1620"/>
<path d="M334.5,566.5 L337.8,562.2 L341,566.5Z" fill="#3a9fd8"/>
<circle cx="326.6" cy="565.0" r="0.95" fill="#0b2545" stroke="#111" stroke-width="0"/>
<circle cx="332.5" cy="565.5" r="0.95" fill="#0b2545" stroke="#111" stroke-width="0"/>
<circle cx="346.0" cy="565.0" r="0.95" fill="#0b2545" stroke="#111" stroke-width="0"/>
<circle cx="349.0" cy="565.5" r="0.95" fill="#0b2545" stroke="#111" stroke-width="0"/>
<circle cx="337.8" cy="560.0" r="0.95" fill="#0b2545" stroke="#111" stroke-width="0"/>
<line x1="377.5" y1="511.0" x2="377.5" y2="522.8" stroke="#333" stroke-width="0.9"/>
<line x1="377.5" y1="581.0" x2="377.5" y2="591.7" stroke="#333" stroke-width="0.9"/>
<path d="M377.30,522.80 L377.47,523.12 L377.69,523.54 L377.96,524.06 L378.26,524.64 L378.57,525.30 L378.90,526.00 L379.26,526.81 L379.68,527.74 L380.11,528.73 L380.53,529.73 L380.91,530.67 L381.20,531.50 L381.39,532.18 L381.50,532.76 L381.57,533.28 L381.62,533.80 L381.68,534.35 L381.80,535.00 L381.97,535.75 L382.19,536.56 L382.41,537.41 L382.64,538.28 L382.84,539.15 L383.00,540.00 L383.11,540.83 L383.17,541.67 L383.21,542.50 L383.25,543.33 L383.31,544.17 L383.40,545.00 L383.52,545.83 L383.64,546.67 L383.78,547.50 L383.94,548.33 L384.15,549.17 L384.40,550.00 L384.72,550.83 L385.10,551.67 L385.52,552.50 L385.96,553.33 L386.39,554.17 L386.80,555.00 L387.20,555.86 L387.62,556.74 L388.04,557.62 L388.43,558.48 L388.79,559.28 L389.10,560.00 L389.37,560.60 L389.60,561.11 L389.81,561.56 L389.96,562.00 L390.06,562.47 L390.10,563.00 L390.06,563.62 L389.96,564.30 L389.81,565.00 L389.60,565.70 L389.37,566.38 L389.10,567.00 L388.80,567.55 L388.47,568.04 L388.10,568.50 L387.70,568.96 L387.26,569.45 L386.80,570.00 L386.30,570.61 L385.76,571.26 L385.19,571.94 L384.60,572.63 L384.00,573.32 L383.40,574.00 L382.79,574.68 L382.14,575.37 L381.49,576.06 L380.85,576.74 L380.24,577.39 L379.70,578.00 L379.20,578.59 L378.71,579.19 L378.27,579.75 L377.87,580.26 L377.55,580.69 L377.30,581.00 L377.30,581.00 L377.05,580.69 L376.73,580.26 L376.33,579.75 L375.89,579.19 L375.40,578.59 L374.90,578.00 L374.36,577.39 L373.75,576.74 L373.11,576.06 L372.46,575.37 L371.81,574.68 L371.20,574.00 L370.60,573.32 L370.00,572.63 L369.41,571.94 L368.84,571.26 L368.30,570.61 L367.80,570.00 L367.34,569.45 L366.90,568.96 L366.50,568.50 L366.13,568.04 L365.80,567.55 L365.50,567.00 L365.23,566.38 L365.00,565.70 L364.79,565.00 L364.64,564.30 L364.54,563.62 L364.50,563.00 L364.54,562.47 L364.64,562.00 L364.79,561.56 L365.00,561.11 L365.23,560.60 L365.50,560.00 L365.81,559.28 L366.17,558.48 L366.56,557.62 L366.98,556.74 L367.40,555.86 L367.80,555.00 L368.21,554.17 L368.64,553.33 L369.08,552.50 L369.50,551.67 L369.88,550.83 L370.20,550.00 L370.45,549.17 L370.66,548.33 L370.82,547.50 L370.96,546.67 L371.08,545.83 L371.20,545.00 L371.29,544.17 L371.35,543.33 L371.39,542.50 L371.43,541.67 L371.49,540.83 L371.60,540.00 L371.76,539.15 L371.96,538.28 L372.19,537.41 L372.41,536.56 L372.63,535.75 L372.80,535.00 L372.92,534.35 L372.98,533.80 L373.03,533.28 L373.10,532.76 L373.21,532.18 L373.40,531.50 L373.69,530.67 L374.07,529.73 L374.49,528.73 L374.92,527.74 L375.34,526.81 L375.70,526.00 L376.03,525.30 L376.34,524.64 L376.64,524.06 L376.91,523.54 L377.13,523.12 L377.30,522.80Z" fill="#2fa3dc" stroke="#0e1620" stroke-width="1.0" stroke-linejoin="round"/>
<circle cx="377.1" cy="537.1" r="1.0" fill="#0b2545"/>
<circle cx="377.5" cy="540.2" r="1.0" fill="#0b2545"/>
<circle cx="377.2" cy="543.4" r="1.0" fill="#0b2545"/>
<circle cx="373.1" cy="546.7" r="1.0" fill="#0b2545"/>
<circle cx="377.2" cy="546.7" r="1.0" fill="#0b2545"/>
<circle cx="381.8" cy="546.8" r="1.0" fill="#0b2545"/>
<circle cx="377.1" cy="553.9" r="1.0" fill="#0b2545"/>
<circle cx="381.7" cy="554.2" r="1.0" fill="#0b2545"/>
<circle cx="368.8" cy="559.0" r="1.0" fill="#0b2545"/>
<circle cx="373.0" cy="558.9" r="1.0" fill="#0b2545"/>
<circle cx="377.1" cy="559.1" r="1.0" fill="#0b2545"/>
<circle cx="385.9" cy="558.8" r="1.0" fill="#0b2545"/>
<circle cx="368.5" cy="562.2" r="1.0" fill="#0b2545"/>
<circle cx="373.2" cy="561.9" r="1.0" fill="#0b2545"/>
<circle cx="377.4" cy="562.0" r="1.0" fill="#0b2545"/>
<circle cx="385.8" cy="562.1" r="1.0" fill="#0b2545"/>
<circle cx="368.6" cy="565.1" r="1.0" fill="#0b2545"/>
<circle cx="373.0" cy="565.0" r="1.0" fill="#0b2545"/>
<circle cx="377.4" cy="564.8" r="1.0" fill="#0b2545"/>
<circle cx="381.5" cy="564.8" r="1.0" fill="#0b2545"/>
<circle cx="368.5" cy="568.0" r="1.0" fill="#0b2545"/>
<circle cx="373.0" cy="568.0" r="1.0" fill="#0b2545"/>
<circle cx="377.3" cy="567.9" r="1.0" fill="#0b2545"/>
<circle cx="381.7" cy="568.0" r="1.0" fill="#0b2545"/>
<circle cx="386.1" cy="567.8" r="1.0" fill="#0b2545"/>
<path d="M416.50,535.90 L416.61,536.30 L416.76,536.82 L416.94,537.45 L417.12,538.19 L417.28,539.04 L417.40,540.00 L417.47,541.14 L417.51,542.48 L417.53,543.92 L417.54,545.39 L417.56,546.78 L417.60,548.00 L417.64,549.05 L417.67,549.99 L417.70,550.86 L417.76,551.68 L417.85,552.48 L418.00,553.30 L418.20,554.12 L418.42,554.91 L418.69,555.68 L419.00,556.45 L419.37,557.22 L419.80,558.00 L420.31,558.81 L420.89,559.63 L421.52,560.46 L422.19,561.28 L422.89,562.06 L423.60,562.80 L424.38,563.51 L425.24,564.20 L426.13,564.86 L426.98,565.47 L427.73,566.02 L428.30,566.50 L428.75,566.87 L429.13,567.13 L429.40,567.34 L429.53,567.52 L429.48,567.73 L429.20,568.00 L428.61,568.34 L427.73,568.72 L426.66,569.12 L425.52,569.53 L424.43,569.93 L423.50,570.30 L422.72,570.64 L422.00,570.96 L421.33,571.27 L420.70,571.58 L420.09,571.89 L419.50,572.20 L418.91,572.54 L418.31,572.90 L417.75,573.27 L417.24,573.61 L416.81,573.89 L416.50,574.10 L416.50,574.10 L416.19,573.89 L415.76,573.61 L415.25,573.27 L414.69,572.90 L414.09,572.54 L413.50,572.20 L412.91,571.89 L412.30,571.58 L411.67,571.27 L411.00,570.96 L410.28,570.64 L409.50,570.30 L408.57,569.93 L407.48,569.53 L406.34,569.12 L405.27,568.72 L404.39,568.34 L403.80,568.00 L403.52,567.73 L403.47,567.52 L403.60,567.34 L403.87,567.13 L404.25,566.87 L404.70,566.50 L405.27,566.02 L406.02,565.47 L406.87,564.86 L407.76,564.20 L408.62,563.51 L409.40,562.80 L410.11,562.06 L410.81,561.28 L411.48,560.46 L412.11,559.63 L412.69,558.81 L413.20,558.00 L413.63,557.22 L414.00,556.45 L414.31,555.68 L414.58,554.91 L414.80,554.12 L415.00,553.30 L415.15,552.48 L415.24,551.68 L415.30,550.86 L415.33,549.99 L415.36,549.05 L415.40,548.00 L415.44,546.78 L415.46,545.39 L415.47,543.92 L415.49,542.48 L415.53,541.14 L415.60,540.00 L415.72,539.04 L415.88,538.19 L416.06,537.45 L416.24,536.82 L416.39,536.30 L416.50,535.90Z" fill="#2fa3dc" stroke="#0e1620" stroke-width="1.4" stroke-linejoin="round"/>
<circle cx="416.4" cy="540.0" r="1.0" fill="#0b2545"/>
<circle cx="416.5" cy="542.5" r="1.0" fill="#0b2545"/>
<circle cx="416.4" cy="544.7" r="1.0" fill="#0b2545"/>
<circle cx="416.6" cy="546.9" r="1.0" fill="#0b2545"/>
<circle cx="416.5" cy="548.8" r="1.0" fill="#0b2545"/>
<circle cx="416.6" cy="551.0" r="1.0" fill="#0b2545"/>
<circle cx="416.6" cy="553.2" r="1.0" fill="#0b2545"/>
<circle cx="416.3" cy="555.8" r="1.0" fill="#0b2545"/>
<circle cx="416.4" cy="557.9" r="1.0" fill="#0b2545"/>
<circle cx="413.8" cy="560.1" r="1.0" fill="#0b2545"/>
<circle cx="416.7" cy="560.1" r="1.0" fill="#0b2545"/>
<circle cx="411.4" cy="562.3" r="1.0" fill="#0b2545"/>
<circle cx="413.8" cy="562.4" r="1.0" fill="#0b2545"/>
<circle cx="416.4" cy="562.0" r="1.0" fill="#0b2545"/>
<circle cx="419.0" cy="562.3" r="1.0" fill="#0b2545"/>
<circle cx="421.4" cy="562.0" r="1.0" fill="#0b2545"/>
<circle cx="409.0" cy="564.5" r="1.0" fill="#0b2545"/>
<circle cx="411.6" cy="564.4" r="1.0" fill="#0b2545"/>
<circle cx="414.1" cy="564.3" r="1.0" fill="#0b2545"/>
<circle cx="416.3" cy="564.2" r="1.0" fill="#0b2545"/>
<circle cx="419.2" cy="564.5" r="1.0" fill="#0b2545"/>
<circle cx="421.6" cy="564.2" r="1.0" fill="#0b2545"/>
<circle cx="406.6" cy="566.7" r="1.0" fill="#0b2545"/>
<circle cx="409.2" cy="566.8" r="1.0" fill="#0b2545"/>
<circle cx="411.5" cy="566.7" r="1.0" fill="#0b2545"/>
<circle cx="414.0" cy="566.6" r="1.0" fill="#0b2545"/>
<circle cx="418.9" cy="566.7" r="1.0" fill="#0b2545"/>
<circle cx="421.7" cy="566.5" r="1.0" fill="#0b2545"/>
<circle cx="426.7" cy="566.7" r="1.0" fill="#0b2545"/>
<circle cx="406.4" cy="568.6" r="1.0" fill="#0b2545"/>
<circle cx="408.8" cy="568.9" r="1.0" fill="#0b2545"/>
<circle cx="411.4" cy="568.8" r="1.0" fill="#0b2545"/>
<circle cx="413.9" cy="568.7" r="1.0" fill="#0b2545"/>
<circle cx="416.3" cy="569.0" r="1.0" fill="#0b2545"/>
<circle cx="419.1" cy="568.8" r="1.0" fill="#0b2545"/>
<circle cx="421.7" cy="569.0" r="1.0" fill="#0b2545"/>
<circle cx="426.5" cy="569.0" r="1.0" fill="#0b2545"/>
<circle cx="414.0" cy="571.1" r="1.0" fill="#0b2545"/>
<circle cx="416.6" cy="571.1" r="1.0" fill="#0b2545"/>
<circle cx="419.0" cy="571.0" r="1.0" fill="#0b2545"/>
<defs><linearGradient id="mfthin" x1="0" y1="0" x2="0" y2="1"><stop offset="0" stop-color="#ffffff"/><stop offset="0.35" stop-color="#9ed2f0"/><stop offset="1" stop-color="#5bbbea"/></linearGradient></defs>
<path d="M456.1,482 L457.2,488 L457.5,540 L454.7,540 L455,488Z" fill="url(#mfthin)"/>
<path d="M456.10,537.00 L456.26,537.14 L456.48,537.30 L456.74,537.51 L457.02,537.81 L457.32,538.22 L457.60,538.80 L457.87,539.59 L458.14,540.59 L458.43,541.70 L458.72,542.86 L459.04,543.99 L459.40,545.00 L459.80,545.90 L460.24,546.76 L460.71,547.58 L461.18,548.38 L461.65,549.18 L462.10,550.00 L462.54,550.83 L462.97,551.67 L463.40,552.50 L463.82,553.33 L464.22,554.17 L464.60,555.00 L464.95,555.83 L465.29,556.67 L465.61,557.50 L465.91,558.33 L466.21,559.17 L466.50,560.00 L466.80,560.85 L467.10,561.71 L467.39,562.57 L467.66,563.42 L467.90,564.24 L468.10,565.00 L468.29,565.70 L468.50,566.36 L468.67,566.98 L468.77,567.59 L468.76,568.19 L468.60,568.80 L468.25,569.42 L467.75,570.04 L467.13,570.65 L466.45,571.26 L465.76,571.88 L465.10,572.50 L464.45,573.13 L463.77,573.76 L463.07,574.40 L462.38,575.04 L461.71,575.67 L461.10,576.30 L460.53,576.93 L459.99,577.57 L459.48,578.21 L458.99,578.84 L458.53,579.44 L458.10,580.00 L457.69,580.55 L457.29,581.10 L456.91,581.63 L456.58,582.11 L456.31,582.51 L456.10,582.80 L456.10,582.80 L455.89,582.51 L455.62,582.11 L455.29,581.63 L454.91,581.10 L454.51,580.55 L454.10,580.00 L453.67,579.44 L453.21,578.84 L452.73,578.21 L452.21,577.57 L451.67,576.93 L451.10,576.30 L450.49,575.67 L449.82,575.04 L449.13,574.40 L448.43,573.76 L447.75,573.13 L447.10,572.50 L446.44,571.88 L445.75,571.26 L445.07,570.65 L444.45,570.04 L443.95,569.42 L443.60,568.80 L443.44,568.19 L443.43,567.59 L443.53,566.98 L443.70,566.36 L443.91,565.70 L444.10,565.00 L444.30,564.24 L444.54,563.42 L444.81,562.57 L445.10,561.71 L445.40,560.85 L445.70,560.00 L445.99,559.17 L446.29,558.33 L446.59,557.50 L446.91,556.67 L447.25,555.83 L447.60,555.00 L447.98,554.17 L448.38,553.33 L448.80,552.50 L449.23,551.67 L449.66,550.83 L450.10,550.00 L450.55,549.18 L451.02,548.38 L451.49,547.58 L451.96,546.76 L452.40,545.90 L452.80,545.00 L453.16,543.99 L453.48,542.86 L453.78,541.70 L454.06,540.59 L454.33,539.59 L454.60,538.80 L454.88,538.22 L455.18,537.81 L455.46,537.51 L455.72,537.30 L455.94,537.14 L456.10,537.00Z" fill="#33aae3" stroke="none" stroke-width="1.0" stroke-linejoin="round"/>
<circle cx="456.1" cy="493.6" r="0.95" fill="#0b2545" stroke="#111" stroke-width="0"/>
<circle cx="456.1" cy="497.2" r="0.95" fill="#0b2545" stroke="#111" stroke-width="0"/>
<circle cx="456.1" cy="500.8" r="0.95" fill="#0b2545" stroke="#111" stroke-width="0"/>
<circle cx="456.1" cy="504.4" r="0.95" fill="#0b2545" stroke="#111" stroke-width="0"/>
<circle cx="456.1" cy="508.0" r="0.95" fill="#0b2545" stroke="#111" stroke-width="0"/>
<circle cx="456.1" cy="511.6" r="0.95" fill="#0b2545" stroke="#111" stroke-width="0"/>
<circle cx="456.1" cy="515.2" r="0.95" fill="#0b2545" stroke="#111" stroke-width="0"/>
<circle cx="456.1" cy="539.0" r="0.95" fill="#0b2545" stroke="#111" stroke-width="0"/>
<circle cx="456.0" cy="548.0" r="0.95" fill="#0b2545" stroke="#111" stroke-width="0"/>
<circle cx="454.5" cy="550.5" r="0.95" fill="#0b2545" stroke="#111" stroke-width="0"/>
<circle cx="457.5" cy="551.5" r="0.95" fill="#0b2545" stroke="#111" stroke-width="0"/>
<circle cx="455.0" cy="554.0" r="0.95" fill="#0b2545" stroke="#111" stroke-width="0"/>
<circle cx="457.2" cy="556.0" r="0.95" fill="#0b2545" stroke="#111" stroke-width="0"/>
<circle cx="454.2" cy="558.0" r="0.95" fill="#0b2545" stroke="#111" stroke-width="0"/>
<circle cx="456.5" cy="560.0" r="0.95" fill="#0b2545" stroke="#111" stroke-width="0"/>
<circle cx="453.5" cy="562.5" r="0.95" fill="#0b2545" stroke="#111" stroke-width="0"/>
<circle cx="458.5" cy="562.8" r="0.95" fill="#0b2545" stroke="#111" stroke-width="0"/>
<circle cx="444.5" cy="567.5" r="1.0" fill="#0b2545" stroke="#111" stroke-width="0"/>
<circle cx="446.4" cy="568.0" r="1.0" fill="#0b2545" stroke="#111" stroke-width="0"/>
<circle cx="448.3" cy="567.5" r="1.0" fill="#0b2545" stroke="#111" stroke-width="0"/>
<circle cx="450.2" cy="568.0" r="1.0" fill="#0b2545" stroke="#111" stroke-width="0"/>
<circle cx="452.1" cy="567.5" r="1.0" fill="#0b2545" stroke="#111" stroke-width="0"/>
<circle cx="454.0" cy="568.0" r="1.0" fill="#0b2545" stroke="#111" stroke-width="0"/>
<circle cx="455.9" cy="567.5" r="1.0" fill="#0b2545" stroke="#111" stroke-width="0"/>
<circle cx="457.8" cy="568.0" r="1.0" fill="#0b2545" stroke="#111" stroke-width="0"/>
<circle cx="459.7" cy="567.5" r="1.0" fill="#0b2545" stroke="#111" stroke-width="0"/>
<circle cx="461.6" cy="568.0" r="1.0" fill="#0b2545" stroke="#111" stroke-width="0"/>
<circle cx="463.5" cy="567.5" r="1.0" fill="#0b2545" stroke="#111" stroke-width="0"/>
<circle cx="465.4" cy="568.0" r="1.0" fill="#0b2545" stroke="#111" stroke-width="0"/>
<circle cx="467.3" cy="567.5" r="1.0" fill="#0b2545" stroke="#111" stroke-width="0"/>
<text x="337.0" y="608.0" font-size="9" text-anchor="middle" font-weight="normal" font-style="normal" fill="#222" >Control</text>
<text x="378.0" y="608.0" font-size="9" text-anchor="middle" font-weight="normal" font-style="normal" fill="#222" >ET</text>
<text x="416.5" y="608.0" font-size="9" text-anchor="middle" font-weight="normal" font-style="normal" fill="#222" >PV</text>
<text x="457.3" y="608.0" font-size="9" text-anchor="middle" font-weight="normal" font-style="normal" fill="#222" >MF</text>
<text x="297.2" y="625.5" font-size="9" text-anchor="start" font-weight="normal" font-style="normal" fill="#222" >CDC20</text>
</svg></body></html>
